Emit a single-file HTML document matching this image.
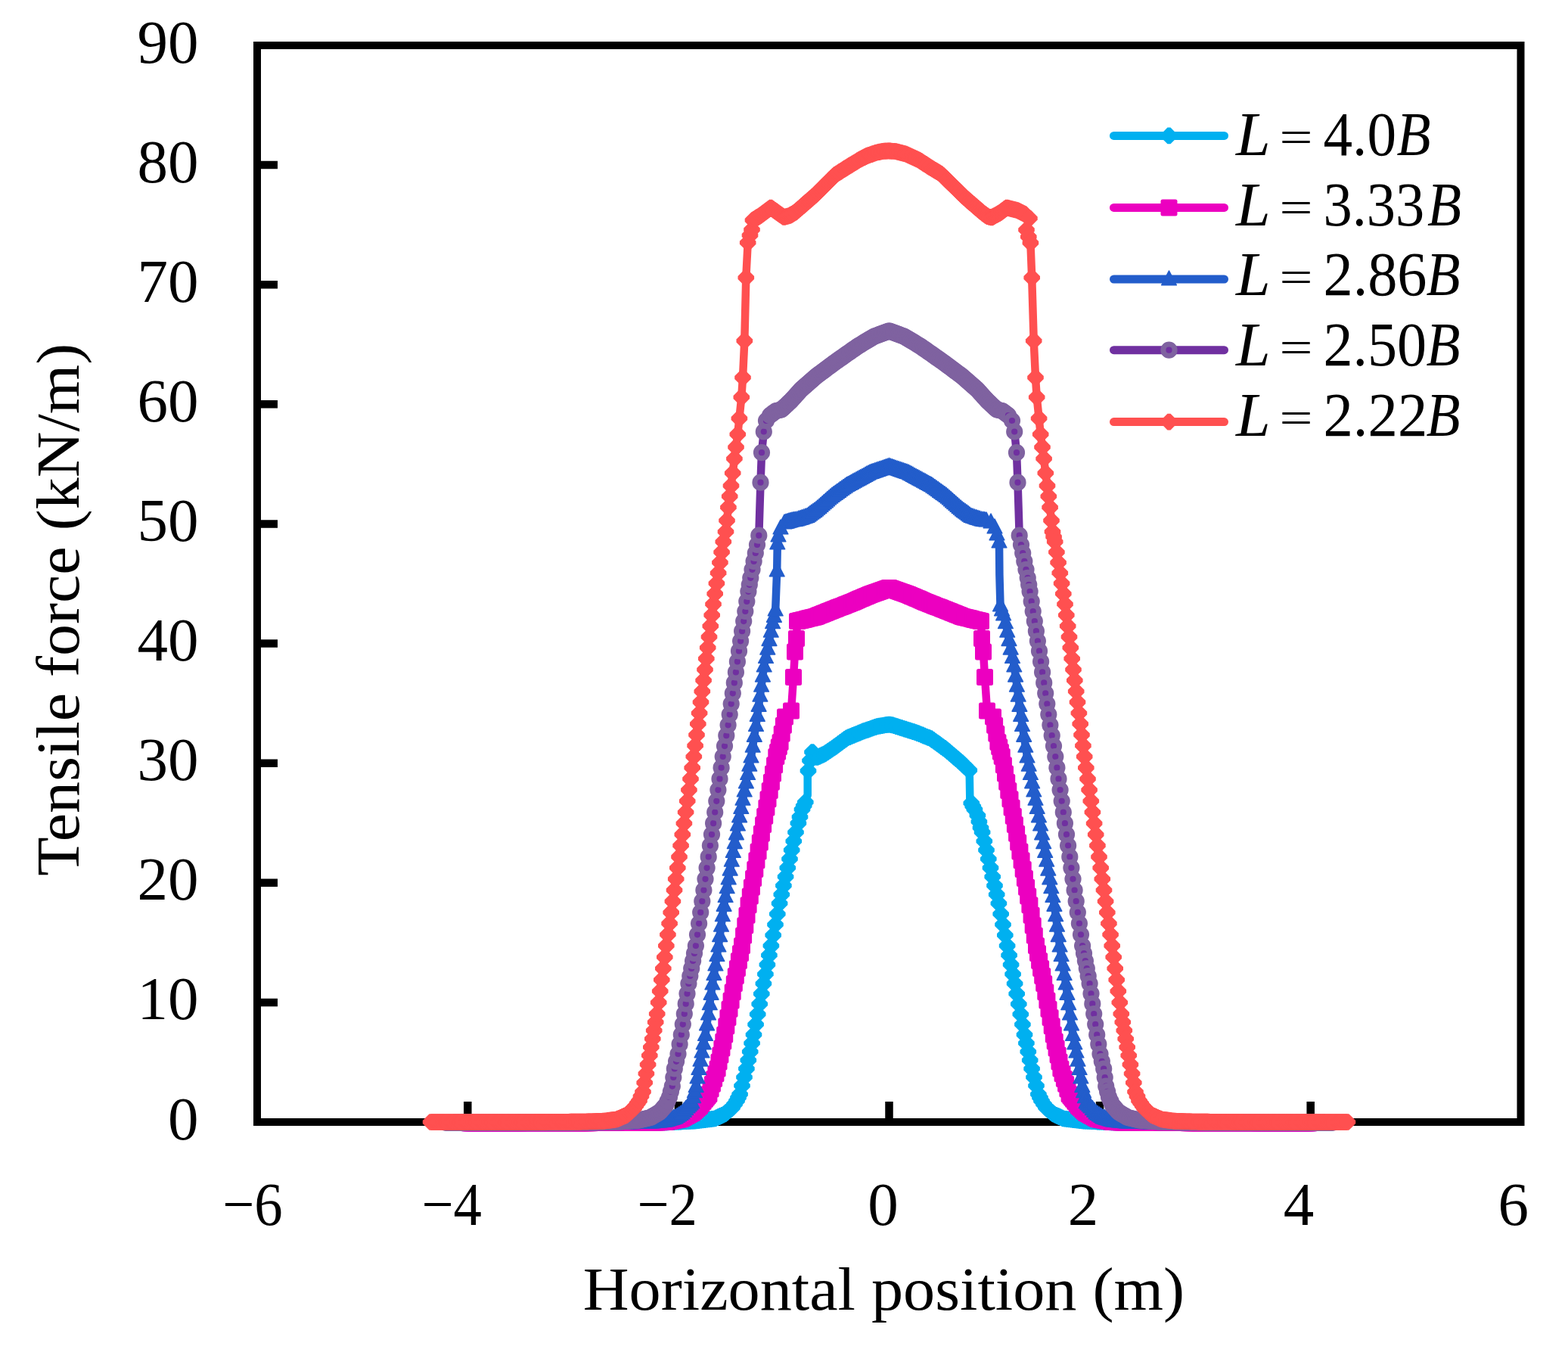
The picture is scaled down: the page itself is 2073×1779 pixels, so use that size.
<!DOCTYPE html><html><head><meta charset="utf-8"><title>Tensile force vs horizontal position</title><style>html,body{margin:0;padding:0;background:#fff;overflow:hidden}svg{display:block}</style></head><body>
<svg width="2073" height="1779" viewBox="0 0 2073 1779">
<defs>
<marker id="m_cyan" markerUnits="userSpaceOnUse" markerWidth="40" markerHeight="40" refX="0" refY="0" viewBox="-20 -20 40 40" overflow="visible"><polygon points="-10.8,-2 -2,-10.8 2,-10.8 10.8,-2 10.8,2 2,10.8 -2,10.8 -10.8,2" fill="#00B0F0"/></marker>
<marker id="m_magenta" markerUnits="userSpaceOnUse" markerWidth="40" markerHeight="40" refX="0" refY="0" viewBox="-20 -20 40 40" overflow="visible"><rect x="-11" y="-11" width="22" height="22" rx="2.5" fill="#EC00C0"/></marker>
<marker id="m_blue" markerUnits="userSpaceOnUse" markerWidth="40" markerHeight="40" refX="0" refY="0" viewBox="-20 -20 40 40" overflow="visible"><polygon points="0,-11 9.8,7.8 -9.8,7.8" fill="#235DCB" stroke="#235DCB" stroke-width="1.6" stroke-linejoin="round"/></marker>
<marker id="m_purple" markerUnits="userSpaceOnUse" markerWidth="40" markerHeight="40" refX="0" refY="0" viewBox="-20 -20 40 40" overflow="visible"><circle r="7.6" fill="#7030A0" stroke="#7F62A0" stroke-width="7"/></marker>
<marker id="m_red" markerUnits="userSpaceOnUse" markerWidth="40" markerHeight="40" refX="0" refY="0" viewBox="-20 -20 40 40" overflow="visible"><polygon points="-10.8,-2 -2,-10.8 2,-10.8 10.8,-2 10.8,2 2,10.8 -2,10.8 -10.8,2" fill="#FF5050"/></marker>
</defs>
<rect width="2073" height="1779" fill="#fff"/>
<rect x="340" y="60" width="1670.5" height="1423" fill="none" stroke="#000" stroke-width="10"/>
<path d="M345,1324.9H367M345,1166.8H367M345,1008.7H367M345,850.6H367M345,692.5H367M345,534.3H367M345,376.2H367M345,218.1H367M618.3,1478V1456M896.9,1478V1456M1175.5,1478V1456M1454.1,1478V1456M1732.7,1478V1456" stroke="#000" stroke-width="10.5" fill="none"/>
<polyline points="640.0,1484.5 642.7,1484.5 645.4,1484.5 648.1,1484.5 650.8,1484.5 653.5,1484.4 656.2,1484.4 658.9,1484.4 661.6,1484.4 664.3,1484.4 667.0,1484.4 669.7,1484.4 672.4,1484.4 675.1,1484.4 677.8,1484.3 680.4,1484.3 683.1,1484.3 685.8,1484.3 688.5,1484.3 691.2,1484.3 693.9,1484.3 696.6,1484.3 699.3,1484.3 702.0,1484.2 704.7,1484.2 707.4,1484.2 710.1,1484.2 712.8,1484.2 715.5,1484.2 718.2,1484.2 720.9,1484.2 723.6,1484.2 726.3,1484.1 729.0,1484.1 731.7,1484.1 734.4,1484.1 737.1,1484.1 739.8,1484.1 742.5,1484.1 745.2,1484.1 747.9,1484.1 750.6,1484.0 753.3,1484.0 756.0,1484.0 758.7,1484.0 761.3,1484.0 764.0,1484.0 766.7,1484.0 769.4,1484.0 772.1,1483.9 774.8,1483.9 777.5,1483.9 780.2,1483.9 782.9,1483.9 785.6,1483.9 788.3,1483.9 791.0,1483.9 793.7,1483.9 796.4,1483.8 799.1,1483.8 801.8,1483.8 804.5,1483.8 807.2,1483.8 809.9,1483.8 812.6,1483.8 815.3,1483.8 818.0,1483.8 820.7,1483.7 823.4,1483.7 826.1,1483.7 828.8,1483.7 831.5,1483.7 834.2,1483.7 836.9,1483.7 839.6,1483.7 842.2,1483.7 844.9,1483.6 847.6,1483.6 850.3,1483.6 853.0,1483.6 855.7,1483.6 858.4,1483.6 861.1,1483.6 863.8,1483.6 866.5,1483.6 869.2,1483.5 871.9,1483.5 874.6,1483.5 877.3,1483.5 880.0,1483.5 882.7,1483.4 885.3,1483.2 888.0,1483.1 890.7,1483.0 893.3,1482.8 896.0,1482.7 898.7,1482.6 901.3,1482.4 904.0,1482.3 906.7,1482.2 909.3,1482.0 912.0,1481.9 914.7,1481.8 917.3,1481.6 920.0,1481.5 922.8,1481.2 925.6,1480.8 928.3,1480.5 931.1,1480.2 933.9,1479.8 936.7,1479.5 939.4,1479.2 942.2,1478.8 945.0,1478.5 947.6,1477.3 950.2,1476.1 952.8,1474.9 955.4,1473.7 958.0,1472.5 960.5,1470.4 963.0,1468.2 965.5,1466.1 968.0,1464.0 971.0,1459.5 974.0,1455.0 976.0,1450.7 978.1,1446.3 981.0,1435.0 984.0,1423.8 986.9,1412.5 989.3,1401.2 991.7,1390.0 994.1,1378.8 996.5,1367.5 999.1,1354.0 1001.7,1340.5 1004.2,1327.0 1006.8,1313.5 1009.4,1300.0 1011.9,1287.5 1014.4,1275.0 1016.9,1262.5 1019.4,1250.0 1022.2,1236.0 1025.0,1222.0 1027.8,1208.0 1030.6,1194.0 1033.3,1182.2 1035.9,1170.5 1038.6,1158.8 1041.3,1147.0 1044.0,1135.2 1046.7,1123.5 1049.3,1111.8 1052.0,1100.0 1055.4,1088.0 1057.5,1079.8 1060.5,1069.7 1062.7,1065.0 1064.8,1060.2 1067.7,1051.0 1067.7,1025.0 1068.5,1018.8 1071.0,1005.2 1074.0,994.0 1080.0,1001.0 1082.5,999.9 1085.0,998.8 1087.5,997.6 1090.0,996.5 1093.0,994.5 1096.0,992.5 1098.9,990.5 1101.9,988.5 1104.5,986.6 1107.1,984.7 1109.7,982.8 1112.2,980.9 1114.8,979.0 1117.4,977.1 1120.0,975.2 1122.7,974.1 1125.4,973.0 1128.1,971.9 1130.8,970.8 1133.4,969.7 1136.1,968.6 1138.8,967.5 1141.5,966.4 1144.1,965.5 1146.8,964.6 1149.4,963.7 1152.1,962.7 1154.7,961.8 1157.4,960.9 1160.0,960.0 1162.6,959.6 1165.2,959.2 1167.8,958.8 1170.3,958.3 1172.9,957.9 1175.5,957.5 1177.8,958.0 1180.0,958.4 1182.8,959.3 1185.5,960.1 1188.3,961.0 1191.1,961.9 1193.8,962.8 1196.6,963.6 1199.3,964.5 1202.1,965.4 1204.9,966.3 1207.6,967.1 1210.4,968.0 1213.3,969.1 1216.2,970.3 1219.1,971.4 1221.9,972.6 1224.8,973.7 1227.7,974.9 1230.6,976.0 1233.1,977.9 1235.7,979.7 1238.2,981.5 1240.8,983.4 1243.3,985.2 1245.8,987.1 1248.4,988.9 1250.9,990.8 1253.8,993.3 1256.7,995.7 1259.6,998.2 1262.4,1000.6 1265.3,1003.1 1268.2,1005.5 1271.1,1008.0 1273.5,1010.5 1276.0,1013.0 1281.3,1018.1 1281.8,1025.2 1282.3,1055.6 1284.3,1061.6 1286.3,1065.7 1288.4,1069.7 1292.4,1077.8 1294.4,1086.0 1296.5,1094.0 1298.6,1100.0 1301.3,1111.8 1304.0,1123.5 1306.8,1135.2 1309.5,1147.0 1312.2,1158.8 1315.0,1170.5 1317.7,1182.2 1320.4,1194.0 1323.2,1208.0 1326.0,1222.0 1328.8,1236.0 1331.6,1250.0 1334.1,1262.5 1336.6,1275.0 1339.1,1287.5 1341.6,1300.0 1344.2,1313.5 1346.8,1327.0 1349.3,1340.5 1351.9,1354.0 1354.5,1367.5 1356.9,1378.8 1359.3,1390.0 1361.7,1401.2 1364.1,1412.5 1367.0,1423.8 1370.0,1435.0 1372.9,1446.3 1375.0,1450.7 1377.0,1455.0 1380.0,1459.5 1383.0,1464.0 1385.5,1466.1 1388.0,1468.2 1390.5,1470.4 1393.0,1472.5 1395.6,1473.7 1398.2,1474.9 1400.8,1476.1 1403.4,1477.3 1406.0,1478.5 1408.8,1478.8 1411.6,1479.2 1414.3,1479.5 1417.1,1479.8 1419.9,1480.2 1422.7,1480.5 1425.4,1480.8 1428.2,1481.2 1431.0,1481.5 1433.7,1481.6 1436.3,1481.8 1439.0,1481.9 1441.7,1482.0 1444.3,1482.2 1447.0,1482.3 1449.7,1482.4 1452.3,1482.6 1455.0,1482.7 1457.7,1482.8 1460.3,1483.0 1463.0,1483.1 1465.7,1483.2 1468.3,1483.4 1471.0,1483.5 1473.7,1483.5 1476.4,1483.5 1479.1,1483.5 1481.8,1483.5 1484.5,1483.6 1487.2,1483.6 1489.9,1483.6 1492.6,1483.6 1495.3,1483.6 1498.0,1483.6 1500.7,1483.6 1503.4,1483.6 1506.1,1483.6 1508.8,1483.7 1511.4,1483.7 1514.1,1483.7 1516.8,1483.7 1519.5,1483.7 1522.2,1483.7 1524.9,1483.7 1527.6,1483.7 1530.3,1483.7 1533.0,1483.8 1535.7,1483.8 1538.4,1483.8 1541.1,1483.8 1543.8,1483.8 1546.5,1483.8 1549.2,1483.8 1551.9,1483.8 1554.6,1483.8 1557.3,1483.9 1560.0,1483.9 1562.7,1483.9 1565.4,1483.9 1568.1,1483.9 1570.8,1483.9 1573.5,1483.9 1576.2,1483.9 1578.9,1483.9 1581.6,1484.0 1584.3,1484.0 1587.0,1484.0 1589.7,1484.0 1592.3,1484.0 1595.0,1484.0 1597.7,1484.0 1600.4,1484.0 1603.1,1484.1 1605.8,1484.1 1608.5,1484.1 1611.2,1484.1 1613.9,1484.1 1616.6,1484.1 1619.3,1484.1 1622.0,1484.1 1624.7,1484.1 1627.4,1484.2 1630.1,1484.2 1632.8,1484.2 1635.5,1484.2 1638.2,1484.2 1640.9,1484.2 1643.6,1484.2 1646.3,1484.2 1649.0,1484.2 1651.7,1484.3 1654.4,1484.3 1657.1,1484.3 1659.8,1484.3 1662.5,1484.3 1665.2,1484.3 1667.9,1484.3 1670.6,1484.3 1673.2,1484.3 1675.9,1484.4 1678.6,1484.4 1681.3,1484.4 1684.0,1484.4 1686.7,1484.4 1689.4,1484.4 1692.1,1484.4 1694.8,1484.4 1697.5,1484.4 1700.2,1484.5 1702.9,1484.5 1705.6,1484.5 1708.3,1484.5 1711.0,1484.5" fill="none" stroke="#00B0F0" stroke-width="10.5" stroke-linejoin="round" stroke-linecap="round"/>
<polyline points="640.0,1484.5 642.7,1484.5 645.4,1484.5 648.1,1484.5 650.8,1484.5 653.5,1484.4 656.2,1484.4 658.9,1484.4 661.6,1484.4 664.3,1484.4 667.0,1484.4 669.7,1484.4 672.4,1484.4 675.1,1484.4 677.8,1484.3 680.4,1484.3 683.1,1484.3 685.8,1484.3 688.5,1484.3 691.2,1484.3 693.9,1484.3 696.6,1484.3 699.3,1484.3 702.0,1484.2 704.7,1484.2 707.4,1484.2 710.1,1484.2 712.8,1484.2 715.5,1484.2 718.2,1484.2 720.9,1484.2 723.6,1484.2 726.3,1484.1 729.0,1484.1 731.7,1484.1 734.4,1484.1 737.1,1484.1 739.8,1484.1 742.5,1484.1 745.2,1484.1 747.9,1484.1 750.6,1484.0 753.3,1484.0 756.0,1484.0 758.7,1484.0 761.3,1484.0 764.0,1484.0 766.7,1484.0 769.4,1484.0 772.1,1483.9 774.8,1483.9 777.5,1483.9 780.2,1483.9 782.9,1483.9 785.6,1483.9 788.3,1483.9 791.0,1483.9 793.7,1483.9 796.4,1483.8 799.1,1483.8 801.8,1483.8 804.5,1483.8 807.2,1483.8 809.9,1483.8 812.6,1483.8 815.3,1483.8 818.0,1483.8 820.7,1483.7 823.4,1483.7 826.1,1483.7 828.8,1483.7 831.5,1483.7 834.2,1483.7 836.9,1483.7 839.6,1483.7 842.2,1483.7 844.9,1483.6 847.6,1483.6 850.3,1483.6 853.0,1483.6 855.7,1483.6 858.4,1483.6 861.1,1483.6 863.8,1483.6 866.5,1483.6 869.2,1483.5 871.9,1483.5 874.6,1483.5 877.3,1483.5 880.0,1483.5 882.7,1483.4 885.3,1483.2 888.0,1483.1 890.7,1483.0 893.3,1482.8 896.0,1482.7 898.7,1482.6 901.3,1482.4 904.0,1482.3 906.7,1482.2 909.3,1482.0 912.0,1481.9 914.7,1481.8 917.3,1481.6 920.0,1481.5 922.8,1481.2 925.6,1480.8 928.3,1480.5 931.1,1480.2 933.9,1479.8 936.7,1479.5 939.4,1479.2 942.2,1478.8 945.0,1478.5 947.6,1477.3 950.2,1476.1 952.8,1474.9 955.4,1473.7 958.0,1472.5 960.5,1470.4 963.0,1468.2 965.5,1466.1 968.0,1464.0 971.0,1459.5 974.0,1455.0 976.0,1450.7 978.1,1446.3 981.0,1435.0 984.0,1423.8 986.9,1412.5 989.3,1401.2 991.7,1390.0 994.1,1378.8 996.5,1367.5 999.1,1354.0 1001.7,1340.5 1004.2,1327.0 1006.8,1313.5 1009.4,1300.0 1011.9,1287.5 1014.4,1275.0 1016.9,1262.5 1019.4,1250.0 1022.2,1236.0 1025.0,1222.0 1027.8,1208.0 1030.6,1194.0 1033.3,1182.2 1035.9,1170.5 1038.6,1158.8 1041.3,1147.0 1044.0,1135.2 1046.7,1123.5 1049.3,1111.8 1052.0,1100.0 1055.4,1088.0 1057.5,1079.8 1060.5,1069.7 1062.7,1065.0 1064.8,1060.2 1068.5,1018.8 1071.0,1005.2 1074.0,994.0 1080.0,1001.0 1082.5,999.9 1085.0,998.8 1087.5,997.6 1090.0,996.5 1093.0,994.5 1096.0,992.5 1098.9,990.5 1101.9,988.5 1104.5,986.6 1107.1,984.7 1109.7,982.8 1112.2,980.9 1114.8,979.0 1117.4,977.1 1120.0,975.2 1122.7,974.1 1125.4,973.0 1128.1,971.9 1130.8,970.8 1133.4,969.7 1136.1,968.6 1138.8,967.5 1141.5,966.4 1144.1,965.5 1146.8,964.6 1149.4,963.7 1152.1,962.7 1154.7,961.8 1157.4,960.9 1160.0,960.0 1162.6,959.6 1165.2,959.2 1167.8,958.8 1170.3,958.3 1172.9,957.9 1175.5,957.5 1177.8,958.0 1180.0,958.4 1182.8,959.3 1185.5,960.1 1188.3,961.0 1191.1,961.9 1193.8,962.8 1196.6,963.6 1199.3,964.5 1202.1,965.4 1204.9,966.3 1207.6,967.1 1210.4,968.0 1213.3,969.1 1216.2,970.3 1219.1,971.4 1221.9,972.6 1224.8,973.7 1227.7,974.9 1230.6,976.0 1233.1,977.9 1235.7,979.7 1238.2,981.5 1240.8,983.4 1243.3,985.2 1245.8,987.1 1248.4,988.9 1250.9,990.8 1253.8,993.3 1256.7,995.7 1259.6,998.2 1262.4,1000.6 1265.3,1003.1 1268.2,1005.5 1271.1,1008.0 1273.5,1010.5 1276.0,1013.0 1281.3,1018.1 1284.3,1061.6 1286.3,1065.7 1288.4,1069.7 1292.4,1077.8 1294.4,1086.0 1296.5,1094.0 1298.6,1100.0 1301.3,1111.8 1304.0,1123.5 1306.8,1135.2 1309.5,1147.0 1312.2,1158.8 1315.0,1170.5 1317.7,1182.2 1320.4,1194.0 1323.2,1208.0 1326.0,1222.0 1328.8,1236.0 1331.6,1250.0 1334.1,1262.5 1336.6,1275.0 1339.1,1287.5 1341.6,1300.0 1344.2,1313.5 1346.8,1327.0 1349.3,1340.5 1351.9,1354.0 1354.5,1367.5 1356.9,1378.8 1359.3,1390.0 1361.7,1401.2 1364.1,1412.5 1367.0,1423.8 1370.0,1435.0 1372.9,1446.3 1375.0,1450.7 1377.0,1455.0 1380.0,1459.5 1383.0,1464.0 1385.5,1466.1 1388.0,1468.2 1390.5,1470.4 1393.0,1472.5 1395.6,1473.7 1398.2,1474.9 1400.8,1476.1 1403.4,1477.3 1406.0,1478.5 1408.8,1478.8 1411.6,1479.2 1414.3,1479.5 1417.1,1479.8 1419.9,1480.2 1422.7,1480.5 1425.4,1480.8 1428.2,1481.2 1431.0,1481.5 1433.7,1481.6 1436.3,1481.8 1439.0,1481.9 1441.7,1482.0 1444.3,1482.2 1447.0,1482.3 1449.7,1482.4 1452.3,1482.6 1455.0,1482.7 1457.7,1482.8 1460.3,1483.0 1463.0,1483.1 1465.7,1483.2 1468.3,1483.4 1471.0,1483.5 1473.7,1483.5 1476.4,1483.5 1479.1,1483.5 1481.8,1483.5 1484.5,1483.6 1487.2,1483.6 1489.9,1483.6 1492.6,1483.6 1495.3,1483.6 1498.0,1483.6 1500.7,1483.6 1503.4,1483.6 1506.1,1483.6 1508.8,1483.7 1511.4,1483.7 1514.1,1483.7 1516.8,1483.7 1519.5,1483.7 1522.2,1483.7 1524.9,1483.7 1527.6,1483.7 1530.3,1483.7 1533.0,1483.8 1535.7,1483.8 1538.4,1483.8 1541.1,1483.8 1543.8,1483.8 1546.5,1483.8 1549.2,1483.8 1551.9,1483.8 1554.6,1483.8 1557.3,1483.9 1560.0,1483.9 1562.7,1483.9 1565.4,1483.9 1568.1,1483.9 1570.8,1483.9 1573.5,1483.9 1576.2,1483.9 1578.9,1483.9 1581.6,1484.0 1584.3,1484.0 1587.0,1484.0 1589.7,1484.0 1592.3,1484.0 1595.0,1484.0 1597.7,1484.0 1600.4,1484.0 1603.1,1484.1 1605.8,1484.1 1608.5,1484.1 1611.2,1484.1 1613.9,1484.1 1616.6,1484.1 1619.3,1484.1 1622.0,1484.1 1624.7,1484.1 1627.4,1484.2 1630.1,1484.2 1632.8,1484.2 1635.5,1484.2 1638.2,1484.2 1640.9,1484.2 1643.6,1484.2 1646.3,1484.2 1649.0,1484.2 1651.7,1484.3 1654.4,1484.3 1657.1,1484.3 1659.8,1484.3 1662.5,1484.3 1665.2,1484.3 1667.9,1484.3 1670.6,1484.3 1673.2,1484.3 1675.9,1484.4 1678.6,1484.4 1681.3,1484.4 1684.0,1484.4 1686.7,1484.4 1689.4,1484.4 1692.1,1484.4 1694.8,1484.4 1697.5,1484.4 1700.2,1484.5 1702.9,1484.5 1705.6,1484.5 1708.3,1484.5 1711.0,1484.5" fill="none" stroke="none" marker-start="url(#m_cyan)" marker-mid="url(#m_cyan)" marker-end="url(#m_cyan)"/>
<polyline points="620.0,1484.5 622.1,1484.5 624.2,1484.5 626.3,1484.5 628.4,1484.5 630.5,1484.5 632.5,1484.5 634.6,1484.5 636.7,1484.5 638.8,1484.5 640.9,1484.5 643.0,1484.5 645.1,1484.4 647.2,1484.4 649.3,1484.4 651.4,1484.4 653.5,1484.4 655.5,1484.4 657.6,1484.4 659.7,1484.4 661.8,1484.4 663.9,1484.4 666.0,1484.4 668.1,1484.4 670.2,1484.4 672.3,1484.4 674.4,1484.4 676.5,1484.4 678.5,1484.4 680.6,1484.4 682.7,1484.4 684.8,1484.4 686.9,1484.4 689.0,1484.3 691.1,1484.3 693.2,1484.3 695.3,1484.3 697.4,1484.3 699.5,1484.3 701.5,1484.3 703.6,1484.3 705.7,1484.3 707.8,1484.3 709.9,1484.3 712.0,1484.3 714.1,1484.3 716.2,1484.3 718.3,1484.3 720.4,1484.3 722.5,1484.3 724.5,1484.3 726.6,1484.3 728.7,1484.3 730.8,1484.3 732.9,1484.3 735.0,1484.2 737.1,1484.2 739.2,1484.2 741.3,1484.2 743.4,1484.2 745.5,1484.2 747.5,1484.2 749.6,1484.2 751.7,1484.2 753.8,1484.2 755.9,1484.2 758.0,1484.2 760.1,1484.2 762.2,1484.2 764.3,1484.2 766.4,1484.2 768.5,1484.2 770.5,1484.2 772.6,1484.2 774.7,1484.2 776.8,1484.2 778.9,1484.2 781.0,1484.2 783.1,1484.1 785.2,1484.1 787.3,1484.1 789.4,1484.1 791.5,1484.1 793.5,1484.1 795.6,1484.1 797.7,1484.1 799.8,1484.1 801.9,1484.1 804.0,1484.1 806.1,1484.1 808.2,1484.1 810.3,1484.1 812.4,1484.1 814.5,1484.1 816.5,1484.1 818.6,1484.1 820.7,1484.1 822.8,1484.1 824.9,1484.1 827.0,1484.0 829.1,1484.0 831.2,1484.0 833.3,1484.0 835.4,1484.0 837.5,1484.0 839.5,1484.0 841.6,1484.0 843.7,1484.0 845.8,1484.0 847.9,1484.0 850.0,1484.0 852.1,1483.9 854.3,1483.9 856.4,1483.8 858.6,1483.7 860.7,1483.6 862.9,1483.6 865.0,1483.5 867.1,1483.4 869.3,1483.4 871.4,1483.3 873.6,1483.2 875.7,1483.1 877.9,1483.1 880.0,1483.0 882.0,1482.6 884.0,1482.2 886.0,1481.8 888.0,1481.4 890.0,1481.0 892.0,1480.6 894.0,1480.2 896.0,1479.8 898.0,1479.4 900.0,1479.0 902.1,1477.9 904.3,1476.7 906.4,1475.6 908.6,1474.4 910.7,1473.3 912.9,1472.1 915.0,1471.0 917.0,1469.2 919.0,1467.4 921.0,1465.6 923.0,1463.8 925.0,1462.0 927.3,1459.0 929.7,1456.0 932.0,1453.0 933.8,1450.8 935.6,1448.5 937.4,1446.3 939.6,1439.5 941.9,1432.8 944.1,1426.0 946.4,1419.3 948.6,1412.5 950.5,1403.5 952.4,1394.5 954.4,1385.5 956.3,1376.5 958.2,1367.5 960.3,1356.2 962.4,1345.0 964.5,1333.8 966.6,1322.5 968.7,1311.2 970.8,1300.0 972.8,1290.0 974.9,1280.0 976.9,1270.0 979.0,1260.0 981.0,1250.0 983.1,1236.6 985.3,1223.2 987.5,1209.7 989.6,1196.3 991.8,1184.5 993.9,1172.7 996.1,1160.9 998.3,1149.1 1000.4,1137.2 1002.6,1125.4 1004.8,1113.6 1006.9,1101.8 1009.1,1090.0 1011.2,1078.8 1013.4,1067.5 1015.5,1056.2 1017.7,1045.0 1019.9,1033.8 1022.0,1022.5 1024.1,1011.2 1026.3,1000.0 1028.1,993.7 1029.8,987.3 1031.6,981.0 1033.7,969.8 1035.9,958.7 1038.0,947.5 1046.0,939.6 1049.0,895.0 1051.0,861.6 1053.0,844.0 1054.0,821.0 1056.2,820.5 1058.4,819.9 1060.5,819.4 1062.7,818.9 1064.9,818.4 1067.1,817.8 1069.3,817.3 1071.5,816.8 1073.6,816.3 1075.8,815.7 1078.0,815.2 1080.1,814.4 1082.2,813.6 1084.3,812.7 1086.4,811.9 1088.5,811.1 1090.5,810.2 1092.6,809.4 1094.7,808.6 1096.8,807.8 1098.9,807.0 1101.0,806.1 1103.1,805.3 1105.2,804.5 1107.3,803.6 1109.4,802.8 1111.5,802.0 1113.6,801.2 1115.7,800.4 1117.7,799.5 1119.8,798.7 1121.9,797.9 1124.0,797.0 1126.1,796.2 1128.2,795.4 1130.4,794.5 1132.6,793.5 1134.7,792.6 1136.9,791.6 1139.1,790.7 1141.3,789.8 1143.5,788.8 1145.6,787.9 1147.8,786.9 1150.0,786.0 1152.1,785.2 1154.2,784.5 1156.4,783.8 1158.5,783.0 1160.6,782.2 1162.8,781.5 1164.9,780.8 1167.0,780.0 1169.1,779.2 1171.2,778.5 1173.4,777.8 1175.5,777.0 1177.6,777.8 1179.8,778.5 1181.9,779.2 1184.0,780.0 1186.1,780.8 1188.2,781.5 1190.4,782.2 1192.5,783.0 1194.6,783.8 1196.8,784.5 1198.9,785.2 1201.0,786.0 1203.2,786.9 1205.4,787.9 1207.5,788.8 1209.7,789.8 1211.9,790.7 1214.1,791.6 1216.3,792.6 1218.4,793.5 1220.6,794.5 1222.8,795.4 1224.9,796.2 1227.0,797.0 1229.1,797.9 1231.2,798.7 1233.3,799.5 1235.3,800.4 1237.4,801.2 1239.5,802.0 1241.6,802.8 1243.7,803.6 1245.8,804.5 1247.9,805.3 1250.0,806.1 1252.1,807.0 1254.2,807.8 1256.3,808.6 1258.4,809.4 1260.5,810.2 1262.5,811.1 1264.6,811.9 1266.7,812.7 1268.8,813.6 1270.9,814.4 1273.0,815.2 1275.2,815.7 1277.4,816.3 1279.5,816.8 1281.7,817.3 1283.9,817.8 1286.1,818.4 1288.3,818.9 1290.5,819.4 1292.6,819.9 1294.8,820.5 1297.0,821.0 1298.0,844.0 1300.0,861.6 1302.0,895.0 1305.0,939.6 1313.0,947.5 1315.1,958.7 1317.3,969.8 1319.4,981.0 1321.2,987.3 1322.9,993.7 1324.7,1000.0 1326.9,1011.2 1329.0,1022.5 1331.2,1033.8 1333.3,1045.0 1335.5,1056.2 1337.6,1067.5 1339.8,1078.8 1341.9,1090.0 1344.1,1101.8 1346.2,1113.6 1348.4,1125.4 1350.6,1137.2 1352.7,1149.1 1354.9,1160.9 1357.1,1172.7 1359.2,1184.5 1361.4,1196.3 1363.6,1209.7 1365.7,1223.2 1367.8,1236.6 1370.0,1250.0 1372.0,1260.0 1374.1,1270.0 1376.1,1280.0 1378.2,1290.0 1380.2,1300.0 1382.3,1311.2 1384.4,1322.5 1386.5,1333.8 1388.6,1345.0 1390.7,1356.2 1392.8,1367.5 1394.7,1376.5 1396.6,1385.5 1398.6,1394.5 1400.5,1403.5 1402.4,1412.5 1404.6,1419.3 1406.9,1426.0 1409.1,1432.8 1411.4,1439.5 1413.6,1446.3 1415.4,1448.5 1417.2,1450.8 1419.0,1453.0 1421.3,1456.0 1423.7,1459.0 1426.0,1462.0 1428.0,1463.8 1430.0,1465.6 1432.0,1467.4 1434.0,1469.2 1436.0,1471.0 1438.1,1472.1 1440.3,1473.3 1442.4,1474.4 1444.6,1475.6 1446.7,1476.7 1448.9,1477.9 1451.0,1479.0 1453.0,1479.4 1455.0,1479.8 1457.0,1480.2 1459.0,1480.6 1461.0,1481.0 1463.0,1481.4 1465.0,1481.8 1467.0,1482.2 1469.0,1482.6 1471.0,1483.0 1473.1,1483.1 1475.3,1483.1 1477.4,1483.2 1479.6,1483.3 1481.7,1483.4 1483.9,1483.4 1486.0,1483.5 1488.1,1483.6 1490.3,1483.6 1492.4,1483.7 1494.6,1483.8 1496.7,1483.9 1498.9,1483.9 1501.0,1484.0 1503.1,1484.0 1505.2,1484.0 1507.3,1484.0 1509.4,1484.0 1511.5,1484.0 1513.5,1484.0 1515.6,1484.0 1517.7,1484.0 1519.8,1484.0 1521.9,1484.0 1524.0,1484.0 1526.1,1484.1 1528.2,1484.1 1530.3,1484.1 1532.4,1484.1 1534.5,1484.1 1536.5,1484.1 1538.6,1484.1 1540.7,1484.1 1542.8,1484.1 1544.9,1484.1 1547.0,1484.1 1549.1,1484.1 1551.2,1484.1 1553.3,1484.1 1555.4,1484.1 1557.5,1484.1 1559.5,1484.1 1561.6,1484.1 1563.7,1484.1 1565.8,1484.1 1567.9,1484.1 1570.0,1484.2 1572.1,1484.2 1574.2,1484.2 1576.3,1484.2 1578.4,1484.2 1580.5,1484.2 1582.5,1484.2 1584.6,1484.2 1586.7,1484.2 1588.8,1484.2 1590.9,1484.2 1593.0,1484.2 1595.1,1484.2 1597.2,1484.2 1599.3,1484.2 1601.4,1484.2 1603.5,1484.2 1605.5,1484.2 1607.6,1484.2 1609.7,1484.2 1611.8,1484.2 1613.9,1484.2 1616.0,1484.2 1618.1,1484.3 1620.2,1484.3 1622.3,1484.3 1624.4,1484.3 1626.5,1484.3 1628.5,1484.3 1630.6,1484.3 1632.7,1484.3 1634.8,1484.3 1636.9,1484.3 1639.0,1484.3 1641.1,1484.3 1643.2,1484.3 1645.3,1484.3 1647.4,1484.3 1649.5,1484.3 1651.5,1484.3 1653.6,1484.3 1655.7,1484.3 1657.8,1484.3 1659.9,1484.3 1662.0,1484.3 1664.1,1484.4 1666.2,1484.4 1668.3,1484.4 1670.4,1484.4 1672.5,1484.4 1674.5,1484.4 1676.6,1484.4 1678.7,1484.4 1680.8,1484.4 1682.9,1484.4 1685.0,1484.4 1687.1,1484.4 1689.2,1484.4 1691.3,1484.4 1693.4,1484.4 1695.5,1484.4 1697.5,1484.4 1699.6,1484.4 1701.7,1484.4 1703.8,1484.4 1705.9,1484.4 1708.0,1484.5 1710.1,1484.5 1712.2,1484.5 1714.3,1484.5 1716.4,1484.5 1718.5,1484.5 1720.5,1484.5 1722.6,1484.5 1724.7,1484.5 1726.8,1484.5 1728.9,1484.5 1731.0,1484.5" fill="none" stroke="#EC00C0" stroke-width="10.5" stroke-linejoin="round" stroke-linecap="round"/>
<polyline points="620.0,1484.5 622.1,1484.5 624.2,1484.5 626.3,1484.5 628.4,1484.5 630.5,1484.5 632.5,1484.5 634.6,1484.5 636.7,1484.5 638.8,1484.5 640.9,1484.5 643.0,1484.5 645.1,1484.4 647.2,1484.4 649.3,1484.4 651.4,1484.4 653.5,1484.4 655.5,1484.4 657.6,1484.4 659.7,1484.4 661.8,1484.4 663.9,1484.4 666.0,1484.4 668.1,1484.4 670.2,1484.4 672.3,1484.4 674.4,1484.4 676.5,1484.4 678.5,1484.4 680.6,1484.4 682.7,1484.4 684.8,1484.4 686.9,1484.4 689.0,1484.3 691.1,1484.3 693.2,1484.3 695.3,1484.3 697.4,1484.3 699.5,1484.3 701.5,1484.3 703.6,1484.3 705.7,1484.3 707.8,1484.3 709.9,1484.3 712.0,1484.3 714.1,1484.3 716.2,1484.3 718.3,1484.3 720.4,1484.3 722.5,1484.3 724.5,1484.3 726.6,1484.3 728.7,1484.3 730.8,1484.3 732.9,1484.3 735.0,1484.2 737.1,1484.2 739.2,1484.2 741.3,1484.2 743.4,1484.2 745.5,1484.2 747.5,1484.2 749.6,1484.2 751.7,1484.2 753.8,1484.2 755.9,1484.2 758.0,1484.2 760.1,1484.2 762.2,1484.2 764.3,1484.2 766.4,1484.2 768.5,1484.2 770.5,1484.2 772.6,1484.2 774.7,1484.2 776.8,1484.2 778.9,1484.2 781.0,1484.2 783.1,1484.1 785.2,1484.1 787.3,1484.1 789.4,1484.1 791.5,1484.1 793.5,1484.1 795.6,1484.1 797.7,1484.1 799.8,1484.1 801.9,1484.1 804.0,1484.1 806.1,1484.1 808.2,1484.1 810.3,1484.1 812.4,1484.1 814.5,1484.1 816.5,1484.1 818.6,1484.1 820.7,1484.1 822.8,1484.1 824.9,1484.1 827.0,1484.0 829.1,1484.0 831.2,1484.0 833.3,1484.0 835.4,1484.0 837.5,1484.0 839.5,1484.0 841.6,1484.0 843.7,1484.0 845.8,1484.0 847.9,1484.0 850.0,1484.0 852.1,1483.9 854.3,1483.9 856.4,1483.8 858.6,1483.7 860.7,1483.6 862.9,1483.6 865.0,1483.5 867.1,1483.4 869.3,1483.4 871.4,1483.3 873.6,1483.2 875.7,1483.1 877.9,1483.1 880.0,1483.0 882.0,1482.6 884.0,1482.2 886.0,1481.8 888.0,1481.4 890.0,1481.0 892.0,1480.6 894.0,1480.2 896.0,1479.8 898.0,1479.4 900.0,1479.0 902.1,1477.9 904.3,1476.7 906.4,1475.6 908.6,1474.4 910.7,1473.3 912.9,1472.1 915.0,1471.0 917.0,1469.2 919.0,1467.4 921.0,1465.6 923.0,1463.8 925.0,1462.0 927.3,1459.0 929.7,1456.0 932.0,1453.0 933.8,1450.8 935.6,1448.5 937.4,1446.3 939.6,1439.5 941.9,1432.8 944.1,1426.0 946.4,1419.3 948.6,1412.5 950.5,1403.5 952.4,1394.5 954.4,1385.5 956.3,1376.5 958.2,1367.5 960.3,1356.2 962.4,1345.0 964.5,1333.8 966.6,1322.5 968.7,1311.2 970.8,1300.0 972.8,1290.0 974.9,1280.0 976.9,1270.0 979.0,1260.0 981.0,1250.0 983.1,1236.6 985.3,1223.2 987.5,1209.7 989.6,1196.3 991.8,1184.5 993.9,1172.7 996.1,1160.9 998.3,1149.1 1000.4,1137.2 1002.6,1125.4 1004.8,1113.6 1006.9,1101.8 1009.1,1090.0 1011.2,1078.8 1013.4,1067.5 1015.5,1056.2 1017.7,1045.0 1019.9,1033.8 1022.0,1022.5 1024.1,1011.2 1026.3,1000.0 1028.1,993.7 1029.8,987.3 1031.6,981.0 1033.7,969.8 1035.9,958.7 1038.0,947.5 1046.0,939.6 1049.0,895.0 1051.0,861.6 1053.0,844.0 1054.0,821.0 1056.2,820.5 1058.4,819.9 1060.5,819.4 1062.7,818.9 1064.9,818.4 1067.1,817.8 1069.3,817.3 1071.5,816.8 1073.6,816.3 1075.8,815.7 1078.0,815.2 1080.1,814.4 1082.2,813.6 1084.3,812.7 1086.4,811.9 1088.5,811.1 1090.5,810.2 1092.6,809.4 1094.7,808.6 1096.8,807.8 1098.9,807.0 1101.0,806.1 1103.1,805.3 1105.2,804.5 1107.3,803.6 1109.4,802.8 1111.5,802.0 1113.6,801.2 1115.7,800.4 1117.7,799.5 1119.8,798.7 1121.9,797.9 1124.0,797.0 1126.1,796.2 1128.2,795.4 1130.4,794.5 1132.6,793.5 1134.7,792.6 1136.9,791.6 1139.1,790.7 1141.3,789.8 1143.5,788.8 1145.6,787.9 1147.8,786.9 1150.0,786.0 1152.1,785.2 1154.2,784.5 1156.4,783.8 1158.5,783.0 1160.6,782.2 1162.8,781.5 1164.9,780.8 1167.0,780.0 1169.1,779.2 1171.2,778.5 1173.4,777.8 1175.5,777.0 1177.6,777.8 1179.8,778.5 1181.9,779.2 1184.0,780.0 1186.1,780.8 1188.2,781.5 1190.4,782.2 1192.5,783.0 1194.6,783.8 1196.8,784.5 1198.9,785.2 1201.0,786.0 1203.2,786.9 1205.4,787.9 1207.5,788.8 1209.7,789.8 1211.9,790.7 1214.1,791.6 1216.3,792.6 1218.4,793.5 1220.6,794.5 1222.8,795.4 1224.9,796.2 1227.0,797.0 1229.1,797.9 1231.2,798.7 1233.3,799.5 1235.3,800.4 1237.4,801.2 1239.5,802.0 1241.6,802.8 1243.7,803.6 1245.8,804.5 1247.9,805.3 1250.0,806.1 1252.1,807.0 1254.2,807.8 1256.3,808.6 1258.4,809.4 1260.5,810.2 1262.5,811.1 1264.6,811.9 1266.7,812.7 1268.8,813.6 1270.9,814.4 1273.0,815.2 1275.2,815.7 1277.4,816.3 1279.5,816.8 1281.7,817.3 1283.9,817.8 1286.1,818.4 1288.3,818.9 1290.5,819.4 1292.6,819.9 1294.8,820.5 1297.0,821.0 1298.0,844.0 1300.0,861.6 1302.0,895.0 1305.0,939.6 1313.0,947.5 1315.1,958.7 1317.3,969.8 1319.4,981.0 1321.2,987.3 1322.9,993.7 1324.7,1000.0 1326.9,1011.2 1329.0,1022.5 1331.2,1033.8 1333.3,1045.0 1335.5,1056.2 1337.6,1067.5 1339.8,1078.8 1341.9,1090.0 1344.1,1101.8 1346.2,1113.6 1348.4,1125.4 1350.6,1137.2 1352.7,1149.1 1354.9,1160.9 1357.1,1172.7 1359.2,1184.5 1361.4,1196.3 1363.6,1209.7 1365.7,1223.2 1367.8,1236.6 1370.0,1250.0 1372.0,1260.0 1374.1,1270.0 1376.1,1280.0 1378.2,1290.0 1380.2,1300.0 1382.3,1311.2 1384.4,1322.5 1386.5,1333.8 1388.6,1345.0 1390.7,1356.2 1392.8,1367.5 1394.7,1376.5 1396.6,1385.5 1398.6,1394.5 1400.5,1403.5 1402.4,1412.5 1404.6,1419.3 1406.9,1426.0 1409.1,1432.8 1411.4,1439.5 1413.6,1446.3 1415.4,1448.5 1417.2,1450.8 1419.0,1453.0 1421.3,1456.0 1423.7,1459.0 1426.0,1462.0 1428.0,1463.8 1430.0,1465.6 1432.0,1467.4 1434.0,1469.2 1436.0,1471.0 1438.1,1472.1 1440.3,1473.3 1442.4,1474.4 1444.6,1475.6 1446.7,1476.7 1448.9,1477.9 1451.0,1479.0 1453.0,1479.4 1455.0,1479.8 1457.0,1480.2 1459.0,1480.6 1461.0,1481.0 1463.0,1481.4 1465.0,1481.8 1467.0,1482.2 1469.0,1482.6 1471.0,1483.0 1473.1,1483.1 1475.3,1483.1 1477.4,1483.2 1479.6,1483.3 1481.7,1483.4 1483.9,1483.4 1486.0,1483.5 1488.1,1483.6 1490.3,1483.6 1492.4,1483.7 1494.6,1483.8 1496.7,1483.9 1498.9,1483.9 1501.0,1484.0 1503.1,1484.0 1505.2,1484.0 1507.3,1484.0 1509.4,1484.0 1511.5,1484.0 1513.5,1484.0 1515.6,1484.0 1517.7,1484.0 1519.8,1484.0 1521.9,1484.0 1524.0,1484.0 1526.1,1484.1 1528.2,1484.1 1530.3,1484.1 1532.4,1484.1 1534.5,1484.1 1536.5,1484.1 1538.6,1484.1 1540.7,1484.1 1542.8,1484.1 1544.9,1484.1 1547.0,1484.1 1549.1,1484.1 1551.2,1484.1 1553.3,1484.1 1555.4,1484.1 1557.5,1484.1 1559.5,1484.1 1561.6,1484.1 1563.7,1484.1 1565.8,1484.1 1567.9,1484.1 1570.0,1484.2 1572.1,1484.2 1574.2,1484.2 1576.3,1484.2 1578.4,1484.2 1580.5,1484.2 1582.5,1484.2 1584.6,1484.2 1586.7,1484.2 1588.8,1484.2 1590.9,1484.2 1593.0,1484.2 1595.1,1484.2 1597.2,1484.2 1599.3,1484.2 1601.4,1484.2 1603.5,1484.2 1605.5,1484.2 1607.6,1484.2 1609.7,1484.2 1611.8,1484.2 1613.9,1484.2 1616.0,1484.2 1618.1,1484.3 1620.2,1484.3 1622.3,1484.3 1624.4,1484.3 1626.5,1484.3 1628.5,1484.3 1630.6,1484.3 1632.7,1484.3 1634.8,1484.3 1636.9,1484.3 1639.0,1484.3 1641.1,1484.3 1643.2,1484.3 1645.3,1484.3 1647.4,1484.3 1649.5,1484.3 1651.5,1484.3 1653.6,1484.3 1655.7,1484.3 1657.8,1484.3 1659.9,1484.3 1662.0,1484.3 1664.1,1484.4 1666.2,1484.4 1668.3,1484.4 1670.4,1484.4 1672.5,1484.4 1674.5,1484.4 1676.6,1484.4 1678.7,1484.4 1680.8,1484.4 1682.9,1484.4 1685.0,1484.4 1687.1,1484.4 1689.2,1484.4 1691.3,1484.4 1693.4,1484.4 1695.5,1484.4 1697.5,1484.4 1699.6,1484.4 1701.7,1484.4 1703.8,1484.4 1705.9,1484.4 1708.0,1484.5 1710.1,1484.5 1712.2,1484.5 1714.3,1484.5 1716.4,1484.5 1718.5,1484.5 1720.5,1484.5 1722.6,1484.5 1724.7,1484.5 1726.8,1484.5 1728.9,1484.5 1731.0,1484.5" fill="none" stroke="none" marker-start="url(#m_magenta)" marker-mid="url(#m_magenta)" marker-end="url(#m_magenta)"/>
<polyline points="600.0,1484.0 602.1,1484.0 604.2,1484.0 606.3,1484.0 608.4,1484.0 610.5,1484.0 612.6,1484.0 614.7,1484.0 616.8,1484.0 618.9,1484.0 621.0,1484.0 623.0,1484.0 625.1,1484.0 627.2,1484.0 629.3,1484.0 631.4,1484.0 633.5,1484.0 635.6,1484.0 637.7,1484.0 639.8,1484.0 641.9,1484.0 644.0,1484.0 646.1,1484.0 648.2,1484.0 650.3,1484.0 652.4,1484.0 654.5,1484.0 656.6,1484.0 658.7,1484.0 660.8,1484.0 662.9,1484.0 665.0,1484.0 667.0,1484.0 669.1,1484.0 671.2,1484.0 673.3,1484.0 675.4,1484.0 677.5,1484.0 679.6,1484.0 681.7,1484.0 683.8,1484.0 685.9,1484.0 688.0,1484.0 690.1,1484.0 692.2,1484.0 694.3,1484.0 696.4,1484.0 698.5,1484.0 700.6,1484.0 702.7,1484.0 704.8,1484.0 706.9,1484.0 709.0,1484.0 711.0,1484.0 713.1,1484.0 715.2,1484.0 717.3,1484.0 719.4,1484.0 721.5,1484.0 723.6,1484.0 725.7,1484.0 727.8,1484.0 729.9,1484.0 732.0,1484.0 734.1,1484.0 736.2,1484.0 738.3,1484.0 740.4,1484.0 742.5,1484.0 744.6,1484.0 746.7,1484.0 748.8,1484.0 750.9,1484.0 753.0,1484.0 755.0,1484.0 757.1,1484.0 759.2,1484.0 761.3,1484.0 763.4,1484.0 765.5,1484.0 767.6,1484.0 769.7,1484.0 771.8,1484.0 773.9,1484.0 776.0,1484.0 778.1,1484.0 780.2,1484.0 782.3,1484.0 784.4,1484.0 786.5,1484.0 788.6,1484.0 790.7,1484.0 792.8,1484.0 794.9,1484.0 797.0,1484.0 799.0,1484.0 801.1,1484.0 803.2,1484.0 805.3,1484.0 807.4,1484.0 809.5,1484.0 811.6,1484.0 813.7,1484.0 815.8,1484.0 817.9,1484.0 820.0,1484.0 822.1,1483.9 824.2,1483.9 826.3,1483.8 828.4,1483.8 830.5,1483.7 832.6,1483.7 834.7,1483.6 836.8,1483.6 838.9,1483.5 841.1,1483.5 843.2,1483.4 845.3,1483.4 847.4,1483.3 849.5,1483.3 851.6,1483.2 853.7,1483.2 855.8,1483.1 857.9,1483.1 860.0,1483.0 862.0,1482.8 864.0,1482.6 866.0,1482.4 868.0,1482.2 870.0,1482.0 872.0,1481.8 874.0,1481.6 876.0,1481.4 878.0,1481.2 880.0,1481.0 882.2,1480.3 884.3,1479.7 886.5,1479.0 888.7,1478.3 890.8,1477.7 893.0,1477.0 895.2,1475.5 897.5,1474.0 899.8,1472.5 902.0,1471.0 904.3,1468.3 906.7,1465.7 909.0,1463.0 910.9,1460.9 912.9,1458.9 914.8,1456.8 916.6,1449.7 918.4,1442.7 920.2,1435.6 922.0,1424.0 923.9,1412.5 926.0,1401.2 928.0,1390.0 930.2,1378.8 932.5,1367.5 934.5,1353.8 936.5,1340.0 938.3,1326.7 940.1,1313.3 941.9,1300.0 943.9,1287.5 945.9,1275.0 947.9,1262.5 949.9,1250.0 951.7,1236.6 953.5,1223.2 955.3,1209.7 957.1,1196.3 959.1,1184.5 961.2,1172.7 963.2,1160.9 965.2,1149.1 967.3,1137.2 969.3,1125.4 971.3,1113.6 973.4,1101.8 975.4,1090.0 977.6,1078.8 979.8,1067.5 982.0,1056.2 984.2,1045.0 986.4,1033.8 988.6,1022.5 990.8,1011.2 993.0,1000.0 995.2,986.2 997.3,972.3 999.5,958.5 1001.3,945.4 1003.1,932.3 1004.9,919.2 1006.6,906.2 1008.4,893.1 1010.2,880.0 1012.5,868.5 1014.8,857.1 1017.0,845.6 1019.3,834.2 1021.6,822.7 1023.4,814.4 1025.2,806.0 1027.2,754.0 1027.8,718.0 1029.0,708.0 1032.0,698.0 1037.0,691.0 1039.0,690.4 1041.0,689.8 1043.0,689.2 1045.0,688.6 1047.0,688.0 1049.2,687.7 1051.3,687.3 1053.5,687.0 1055.8,686.2 1058.0,685.5 1060.2,684.8 1062.5,684.0 1064.8,683.2 1067.0,682.5 1069.0,681.1 1070.9,679.7 1072.8,678.2 1074.8,676.8 1076.8,675.4 1078.7,674.0 1080.8,672.1 1083.0,670.3 1085.1,668.4 1087.2,666.5 1089.3,664.6 1091.5,662.8 1093.6,660.9 1095.7,659.0 1097.9,657.2 1100.0,655.3 1102.1,653.8 1104.3,652.3 1106.4,650.8 1108.6,649.3 1110.7,647.7 1112.9,646.2 1115.0,644.7 1117.2,643.2 1119.3,641.7 1121.3,640.6 1123.4,639.5 1125.4,638.4 1127.5,637.2 1129.5,636.1 1131.6,635.0 1133.6,633.9 1135.7,632.8 1137.7,631.7 1139.8,630.6 1141.8,629.5 1143.9,628.3 1145.9,627.2 1148.0,626.1 1150.0,625.0 1152.1,624.3 1154.2,623.6 1156.4,622.9 1158.5,622.1 1160.6,621.4 1162.8,620.7 1164.9,620.0 1167.0,619.3 1169.1,618.5 1171.2,617.8 1173.4,617.1 1175.5,616.4 1177.6,617.1 1179.8,617.8 1181.9,618.5 1184.0,619.3 1186.1,620.0 1188.2,620.7 1190.4,621.4 1192.5,622.1 1194.6,622.9 1196.8,623.6 1198.9,624.3 1201.0,625.0 1203.0,626.1 1205.1,627.2 1207.1,628.3 1209.2,629.5 1211.2,630.6 1213.3,631.7 1215.3,632.8 1217.4,633.9 1219.4,635.0 1221.5,636.1 1223.5,637.2 1225.6,638.4 1227.6,639.5 1229.7,640.6 1231.7,641.7 1233.8,643.2 1236.0,644.7 1238.1,646.2 1240.3,647.7 1242.4,649.3 1244.6,650.8 1246.7,652.3 1248.9,653.8 1251.0,655.3 1253.1,657.2 1255.3,659.0 1257.4,660.9 1259.5,662.8 1261.7,664.6 1263.8,666.5 1265.9,668.4 1268.0,670.3 1270.2,672.1 1272.3,674.0 1274.2,675.4 1276.2,676.8 1278.2,678.2 1280.1,679.7 1282.0,681.1 1284.0,682.5 1286.2,683.2 1288.5,684.0 1290.8,684.8 1293.0,685.5 1295.2,686.2 1297.5,687.0 1299.7,687.3 1301.8,687.7 1304.0,688.0 1310.0,690.0 1315.0,697.0 1318.0,706.0 1321.0,716.0 1321.4,760.0 1322.5,800.0 1324.5,806.0 1326.6,812.0 1329.4,822.7 1331.7,834.2 1334.0,845.6 1336.2,857.1 1338.5,868.5 1340.8,880.0 1342.6,893.1 1344.4,906.2 1346.2,919.2 1347.9,932.3 1349.7,945.4 1351.5,958.5 1353.7,972.3 1355.8,986.2 1358.0,1000.0 1360.2,1011.2 1362.4,1022.5 1364.6,1033.8 1366.8,1045.0 1369.0,1056.2 1371.2,1067.5 1373.4,1078.8 1375.6,1090.0 1377.6,1101.8 1379.7,1113.6 1381.7,1125.4 1383.7,1137.2 1385.8,1149.1 1387.8,1160.9 1389.8,1172.7 1391.9,1184.5 1393.9,1196.3 1395.7,1209.7 1397.5,1223.2 1399.3,1236.6 1401.1,1250.0 1403.1,1262.5 1405.1,1275.0 1407.1,1287.5 1409.1,1300.0 1410.9,1313.3 1412.7,1326.7 1414.5,1340.0 1416.5,1353.8 1418.5,1367.5 1420.8,1378.8 1423.0,1390.0 1425.0,1401.2 1427.1,1412.5 1428.9,1424.0 1430.8,1435.6 1432.6,1442.7 1434.4,1449.7 1436.2,1456.8 1438.1,1458.9 1440.1,1460.9 1442.0,1463.0 1444.3,1465.7 1446.7,1468.3 1449.0,1471.0 1451.2,1472.5 1453.5,1474.0 1455.8,1475.5 1458.0,1477.0 1460.2,1477.7 1462.3,1478.3 1464.5,1479.0 1466.7,1479.7 1468.8,1480.3 1471.0,1481.0 1473.0,1481.2 1475.0,1481.4 1477.0,1481.6 1479.0,1481.8 1481.0,1482.0 1483.0,1482.2 1485.0,1482.4 1487.0,1482.6 1489.0,1482.8 1491.0,1483.0 1493.1,1483.1 1495.2,1483.1 1497.3,1483.2 1499.4,1483.2 1501.5,1483.3 1503.6,1483.3 1505.7,1483.4 1507.8,1483.4 1509.9,1483.5 1512.1,1483.5 1514.2,1483.6 1516.3,1483.6 1518.4,1483.7 1520.5,1483.7 1522.6,1483.8 1524.7,1483.8 1526.8,1483.9 1528.9,1483.9 1531.0,1484.0 1533.1,1484.0 1535.2,1484.0 1537.3,1484.0 1539.4,1484.0 1541.5,1484.0 1543.6,1484.0 1545.7,1484.0 1547.8,1484.0 1549.9,1484.0 1552.0,1484.0 1554.0,1484.0 1556.1,1484.0 1558.2,1484.0 1560.3,1484.0 1562.4,1484.0 1564.5,1484.0 1566.6,1484.0 1568.7,1484.0 1570.8,1484.0 1572.9,1484.0 1575.0,1484.0 1577.1,1484.0 1579.2,1484.0 1581.3,1484.0 1583.4,1484.0 1585.5,1484.0 1587.6,1484.0 1589.7,1484.0 1591.8,1484.0 1593.9,1484.0 1596.0,1484.0 1598.0,1484.0 1600.1,1484.0 1602.2,1484.0 1604.3,1484.0 1606.4,1484.0 1608.5,1484.0 1610.6,1484.0 1612.7,1484.0 1614.8,1484.0 1616.9,1484.0 1619.0,1484.0 1621.1,1484.0 1623.2,1484.0 1625.3,1484.0 1627.4,1484.0 1629.5,1484.0 1631.6,1484.0 1633.7,1484.0 1635.8,1484.0 1637.9,1484.0 1640.0,1484.0 1642.0,1484.0 1644.1,1484.0 1646.2,1484.0 1648.3,1484.0 1650.4,1484.0 1652.5,1484.0 1654.6,1484.0 1656.7,1484.0 1658.8,1484.0 1660.9,1484.0 1663.0,1484.0 1665.1,1484.0 1667.2,1484.0 1669.3,1484.0 1671.4,1484.0 1673.5,1484.0 1675.6,1484.0 1677.7,1484.0 1679.8,1484.0 1681.9,1484.0 1684.0,1484.0 1686.0,1484.0 1688.1,1484.0 1690.2,1484.0 1692.3,1484.0 1694.4,1484.0 1696.5,1484.0 1698.6,1484.0 1700.7,1484.0 1702.8,1484.0 1704.9,1484.0 1707.0,1484.0 1709.1,1484.0 1711.2,1484.0 1713.3,1484.0 1715.4,1484.0 1717.5,1484.0 1719.6,1484.0 1721.7,1484.0 1723.8,1484.0 1725.9,1484.0 1728.0,1484.0 1730.0,1484.0 1732.1,1484.0 1734.2,1484.0 1736.3,1484.0 1738.4,1484.0 1740.5,1484.0 1742.6,1484.0 1744.7,1484.0 1746.8,1484.0 1748.9,1484.0 1751.0,1484.0" fill="none" stroke="#235DCB" stroke-width="10.5" stroke-linejoin="round" stroke-linecap="round"/>
<polyline points="600.0,1484.0 602.1,1484.0 604.2,1484.0 606.3,1484.0 608.4,1484.0 610.5,1484.0 612.6,1484.0 614.7,1484.0 616.8,1484.0 618.9,1484.0 621.0,1484.0 623.0,1484.0 625.1,1484.0 627.2,1484.0 629.3,1484.0 631.4,1484.0 633.5,1484.0 635.6,1484.0 637.7,1484.0 639.8,1484.0 641.9,1484.0 644.0,1484.0 646.1,1484.0 648.2,1484.0 650.3,1484.0 652.4,1484.0 654.5,1484.0 656.6,1484.0 658.7,1484.0 660.8,1484.0 662.9,1484.0 665.0,1484.0 667.0,1484.0 669.1,1484.0 671.2,1484.0 673.3,1484.0 675.4,1484.0 677.5,1484.0 679.6,1484.0 681.7,1484.0 683.8,1484.0 685.9,1484.0 688.0,1484.0 690.1,1484.0 692.2,1484.0 694.3,1484.0 696.4,1484.0 698.5,1484.0 700.6,1484.0 702.7,1484.0 704.8,1484.0 706.9,1484.0 709.0,1484.0 711.0,1484.0 713.1,1484.0 715.2,1484.0 717.3,1484.0 719.4,1484.0 721.5,1484.0 723.6,1484.0 725.7,1484.0 727.8,1484.0 729.9,1484.0 732.0,1484.0 734.1,1484.0 736.2,1484.0 738.3,1484.0 740.4,1484.0 742.5,1484.0 744.6,1484.0 746.7,1484.0 748.8,1484.0 750.9,1484.0 753.0,1484.0 755.0,1484.0 757.1,1484.0 759.2,1484.0 761.3,1484.0 763.4,1484.0 765.5,1484.0 767.6,1484.0 769.7,1484.0 771.8,1484.0 773.9,1484.0 776.0,1484.0 778.1,1484.0 780.2,1484.0 782.3,1484.0 784.4,1484.0 786.5,1484.0 788.6,1484.0 790.7,1484.0 792.8,1484.0 794.9,1484.0 797.0,1484.0 799.0,1484.0 801.1,1484.0 803.2,1484.0 805.3,1484.0 807.4,1484.0 809.5,1484.0 811.6,1484.0 813.7,1484.0 815.8,1484.0 817.9,1484.0 820.0,1484.0 822.1,1483.9 824.2,1483.9 826.3,1483.8 828.4,1483.8 830.5,1483.7 832.6,1483.7 834.7,1483.6 836.8,1483.6 838.9,1483.5 841.1,1483.5 843.2,1483.4 845.3,1483.4 847.4,1483.3 849.5,1483.3 851.6,1483.2 853.7,1483.2 855.8,1483.1 857.9,1483.1 860.0,1483.0 862.0,1482.8 864.0,1482.6 866.0,1482.4 868.0,1482.2 870.0,1482.0 872.0,1481.8 874.0,1481.6 876.0,1481.4 878.0,1481.2 880.0,1481.0 882.2,1480.3 884.3,1479.7 886.5,1479.0 888.7,1478.3 890.8,1477.7 893.0,1477.0 895.2,1475.5 897.5,1474.0 899.8,1472.5 902.0,1471.0 904.3,1468.3 906.7,1465.7 909.0,1463.0 910.9,1460.9 912.9,1458.9 914.8,1456.8 916.6,1449.7 918.4,1442.7 920.2,1435.6 922.0,1424.0 923.9,1412.5 926.0,1401.2 928.0,1390.0 930.2,1378.8 932.5,1367.5 934.5,1353.8 936.5,1340.0 938.3,1326.7 940.1,1313.3 941.9,1300.0 943.9,1287.5 945.9,1275.0 947.9,1262.5 949.9,1250.0 951.7,1236.6 953.5,1223.2 955.3,1209.7 957.1,1196.3 959.1,1184.5 961.2,1172.7 963.2,1160.9 965.2,1149.1 967.3,1137.2 969.3,1125.4 971.3,1113.6 973.4,1101.8 975.4,1090.0 977.6,1078.8 979.8,1067.5 982.0,1056.2 984.2,1045.0 986.4,1033.8 988.6,1022.5 990.8,1011.2 993.0,1000.0 995.2,986.2 997.3,972.3 999.5,958.5 1001.3,945.4 1003.1,932.3 1004.9,919.2 1006.6,906.2 1008.4,893.1 1010.2,880.0 1012.5,868.5 1014.8,857.1 1017.0,845.6 1019.3,834.2 1021.6,822.7 1023.4,814.4 1025.2,806.0 1027.2,754.0 1027.8,718.0 1029.0,708.0 1032.0,698.0 1037.0,691.0 1039.0,690.4 1041.0,689.8 1043.0,689.2 1045.0,688.6 1047.0,688.0 1049.2,687.7 1051.3,687.3 1053.5,687.0 1055.8,686.2 1058.0,685.5 1060.2,684.8 1062.5,684.0 1064.8,683.2 1067.0,682.5 1069.0,681.1 1070.9,679.7 1072.8,678.2 1074.8,676.8 1076.8,675.4 1078.7,674.0 1080.8,672.1 1083.0,670.3 1085.1,668.4 1087.2,666.5 1089.3,664.6 1091.5,662.8 1093.6,660.9 1095.7,659.0 1097.9,657.2 1100.0,655.3 1102.1,653.8 1104.3,652.3 1106.4,650.8 1108.6,649.3 1110.7,647.7 1112.9,646.2 1115.0,644.7 1117.2,643.2 1119.3,641.7 1121.3,640.6 1123.4,639.5 1125.4,638.4 1127.5,637.2 1129.5,636.1 1131.6,635.0 1133.6,633.9 1135.7,632.8 1137.7,631.7 1139.8,630.6 1141.8,629.5 1143.9,628.3 1145.9,627.2 1148.0,626.1 1150.0,625.0 1152.1,624.3 1154.2,623.6 1156.4,622.9 1158.5,622.1 1160.6,621.4 1162.8,620.7 1164.9,620.0 1167.0,619.3 1169.1,618.5 1171.2,617.8 1173.4,617.1 1175.5,616.4 1177.6,617.1 1179.8,617.8 1181.9,618.5 1184.0,619.3 1186.1,620.0 1188.2,620.7 1190.4,621.4 1192.5,622.1 1194.6,622.9 1196.8,623.6 1198.9,624.3 1201.0,625.0 1203.0,626.1 1205.1,627.2 1207.1,628.3 1209.2,629.5 1211.2,630.6 1213.3,631.7 1215.3,632.8 1217.4,633.9 1219.4,635.0 1221.5,636.1 1223.5,637.2 1225.6,638.4 1227.6,639.5 1229.7,640.6 1231.7,641.7 1233.8,643.2 1236.0,644.7 1238.1,646.2 1240.3,647.7 1242.4,649.3 1244.6,650.8 1246.7,652.3 1248.9,653.8 1251.0,655.3 1253.1,657.2 1255.3,659.0 1257.4,660.9 1259.5,662.8 1261.7,664.6 1263.8,666.5 1265.9,668.4 1268.0,670.3 1270.2,672.1 1272.3,674.0 1274.2,675.4 1276.2,676.8 1278.2,678.2 1280.1,679.7 1282.0,681.1 1284.0,682.5 1286.2,683.2 1288.5,684.0 1290.8,684.8 1293.0,685.5 1295.2,686.2 1297.5,687.0 1299.7,687.3 1301.8,687.7 1304.0,688.0 1310.0,690.0 1315.0,697.0 1318.0,706.0 1321.0,716.0 1322.5,800.0 1324.5,806.0 1326.6,812.0 1329.4,822.7 1331.7,834.2 1334.0,845.6 1336.2,857.1 1338.5,868.5 1340.8,880.0 1342.6,893.1 1344.4,906.2 1346.2,919.2 1347.9,932.3 1349.7,945.4 1351.5,958.5 1353.7,972.3 1355.8,986.2 1358.0,1000.0 1360.2,1011.2 1362.4,1022.5 1364.6,1033.8 1366.8,1045.0 1369.0,1056.2 1371.2,1067.5 1373.4,1078.8 1375.6,1090.0 1377.6,1101.8 1379.7,1113.6 1381.7,1125.4 1383.7,1137.2 1385.8,1149.1 1387.8,1160.9 1389.8,1172.7 1391.9,1184.5 1393.9,1196.3 1395.7,1209.7 1397.5,1223.2 1399.3,1236.6 1401.1,1250.0 1403.1,1262.5 1405.1,1275.0 1407.1,1287.5 1409.1,1300.0 1410.9,1313.3 1412.7,1326.7 1414.5,1340.0 1416.5,1353.8 1418.5,1367.5 1420.8,1378.8 1423.0,1390.0 1425.0,1401.2 1427.1,1412.5 1428.9,1424.0 1430.8,1435.6 1432.6,1442.7 1434.4,1449.7 1436.2,1456.8 1438.1,1458.9 1440.1,1460.9 1442.0,1463.0 1444.3,1465.7 1446.7,1468.3 1449.0,1471.0 1451.2,1472.5 1453.5,1474.0 1455.8,1475.5 1458.0,1477.0 1460.2,1477.7 1462.3,1478.3 1464.5,1479.0 1466.7,1479.7 1468.8,1480.3 1471.0,1481.0 1473.0,1481.2 1475.0,1481.4 1477.0,1481.6 1479.0,1481.8 1481.0,1482.0 1483.0,1482.2 1485.0,1482.4 1487.0,1482.6 1489.0,1482.8 1491.0,1483.0 1493.1,1483.1 1495.2,1483.1 1497.3,1483.2 1499.4,1483.2 1501.5,1483.3 1503.6,1483.3 1505.7,1483.4 1507.8,1483.4 1509.9,1483.5 1512.1,1483.5 1514.2,1483.6 1516.3,1483.6 1518.4,1483.7 1520.5,1483.7 1522.6,1483.8 1524.7,1483.8 1526.8,1483.9 1528.9,1483.9 1531.0,1484.0 1533.1,1484.0 1535.2,1484.0 1537.3,1484.0 1539.4,1484.0 1541.5,1484.0 1543.6,1484.0 1545.7,1484.0 1547.8,1484.0 1549.9,1484.0 1552.0,1484.0 1554.0,1484.0 1556.1,1484.0 1558.2,1484.0 1560.3,1484.0 1562.4,1484.0 1564.5,1484.0 1566.6,1484.0 1568.7,1484.0 1570.8,1484.0 1572.9,1484.0 1575.0,1484.0 1577.1,1484.0 1579.2,1484.0 1581.3,1484.0 1583.4,1484.0 1585.5,1484.0 1587.6,1484.0 1589.7,1484.0 1591.8,1484.0 1593.9,1484.0 1596.0,1484.0 1598.0,1484.0 1600.1,1484.0 1602.2,1484.0 1604.3,1484.0 1606.4,1484.0 1608.5,1484.0 1610.6,1484.0 1612.7,1484.0 1614.8,1484.0 1616.9,1484.0 1619.0,1484.0 1621.1,1484.0 1623.2,1484.0 1625.3,1484.0 1627.4,1484.0 1629.5,1484.0 1631.6,1484.0 1633.7,1484.0 1635.8,1484.0 1637.9,1484.0 1640.0,1484.0 1642.0,1484.0 1644.1,1484.0 1646.2,1484.0 1648.3,1484.0 1650.4,1484.0 1652.5,1484.0 1654.6,1484.0 1656.7,1484.0 1658.8,1484.0 1660.9,1484.0 1663.0,1484.0 1665.1,1484.0 1667.2,1484.0 1669.3,1484.0 1671.4,1484.0 1673.5,1484.0 1675.6,1484.0 1677.7,1484.0 1679.8,1484.0 1681.9,1484.0 1684.0,1484.0 1686.0,1484.0 1688.1,1484.0 1690.2,1484.0 1692.3,1484.0 1694.4,1484.0 1696.5,1484.0 1698.6,1484.0 1700.7,1484.0 1702.8,1484.0 1704.9,1484.0 1707.0,1484.0 1709.1,1484.0 1711.2,1484.0 1713.3,1484.0 1715.4,1484.0 1717.5,1484.0 1719.6,1484.0 1721.7,1484.0 1723.8,1484.0 1725.9,1484.0 1728.0,1484.0 1730.0,1484.0 1732.1,1484.0 1734.2,1484.0 1736.3,1484.0 1738.4,1484.0 1740.5,1484.0 1742.6,1484.0 1744.7,1484.0 1746.8,1484.0 1748.9,1484.0 1751.0,1484.0" fill="none" stroke="none" marker-start="url(#m_blue)" marker-mid="url(#m_blue)" marker-end="url(#m_blue)"/>
<polyline points="590.0,1484.0 592.1,1484.0 594.2,1484.0 596.3,1484.0 598.4,1484.0 600.4,1484.0 602.5,1484.0 604.6,1484.0 606.7,1484.0 608.8,1484.0 610.9,1483.9 613.0,1483.9 615.1,1483.9 617.1,1483.9 619.2,1483.9 621.3,1483.9 623.4,1483.9 625.5,1483.9 627.6,1483.9 629.7,1483.9 631.8,1483.9 633.8,1483.9 635.9,1483.9 638.0,1483.9 640.1,1483.9 642.2,1483.9 644.3,1483.9 646.4,1483.9 648.5,1483.8 650.5,1483.8 652.6,1483.8 654.7,1483.8 656.8,1483.8 658.9,1483.8 661.0,1483.8 663.1,1483.8 665.2,1483.8 667.3,1483.8 669.3,1483.8 671.4,1483.8 673.5,1483.8 675.6,1483.8 677.7,1483.8 679.8,1483.8 681.9,1483.8 684.0,1483.8 686.0,1483.7 688.1,1483.7 690.2,1483.7 692.3,1483.7 694.4,1483.7 696.5,1483.7 698.6,1483.7 700.7,1483.7 702.7,1483.7 704.8,1483.7 706.9,1483.7 709.0,1483.7 711.1,1483.7 713.2,1483.7 715.3,1483.7 717.4,1483.7 719.5,1483.7 721.5,1483.7 723.6,1483.6 725.7,1483.6 727.8,1483.6 729.9,1483.6 732.0,1483.6 734.1,1483.6 736.2,1483.6 738.2,1483.6 740.3,1483.6 742.4,1483.6 744.5,1483.6 746.6,1483.6 748.7,1483.6 750.8,1483.6 752.9,1483.6 754.9,1483.6 757.0,1483.6 759.1,1483.6 761.2,1483.5 763.3,1483.5 765.4,1483.5 767.5,1483.5 769.6,1483.5 771.6,1483.5 773.7,1483.5 775.8,1483.5 777.9,1483.5 780.0,1483.5 782.1,1483.4 784.2,1483.4 786.3,1483.3 788.4,1483.3 790.5,1483.2 792.6,1483.2 794.7,1483.1 796.8,1483.1 798.9,1483.0 801.1,1483.0 803.2,1482.9 805.3,1482.9 807.4,1482.8 809.5,1482.8 811.6,1482.7 813.7,1482.7 815.8,1482.6 817.9,1482.6 820.0,1482.5 822.1,1482.3 824.2,1482.2 826.2,1482.0 828.3,1481.8 830.4,1481.7 832.5,1481.5 834.6,1481.3 836.7,1481.2 838.8,1481.0 840.8,1480.8 842.9,1480.7 845.0,1480.5 847.1,1480.0 849.3,1479.5 851.4,1479.0 853.6,1478.5 855.7,1478.0 857.9,1477.5 860.0,1477.0 862.0,1475.8 864.0,1474.7 866.0,1473.5 868.0,1472.3 870.0,1471.2 872.0,1470.0 874.0,1467.8 876.0,1465.5 878.0,1463.2 880.0,1461.0 882.5,1455.5 885.0,1450.0 886.9,1442.8 888.8,1435.6 890.3,1424.0 891.8,1412.5 894.1,1402.8 896.5,1393.0 898.6,1380.2 900.8,1367.5 902.8,1353.8 904.8,1340.0 906.7,1326.7 908.5,1313.3 910.4,1300.0 912.3,1290.0 914.2,1280.0 916.1,1270.0 918.0,1260.0 919.9,1250.0 922.0,1235.3 924.1,1220.6 926.2,1205.9 928.3,1191.2 930.4,1176.5 932.5,1161.8 934.6,1147.1 936.7,1132.4 938.9,1117.6 941.0,1102.9 943.1,1088.2 945.2,1073.5 947.3,1058.8 949.4,1044.1 951.5,1029.4 953.6,1014.7 955.7,1000.0 958.0,986.1 960.3,972.2 962.6,958.3 964.7,944.3 966.7,930.3 968.8,916.3 970.8,902.4 972.9,888.4 974.9,874.4 977.0,860.4 979.1,847.3 981.1,834.2 983.2,821.1 985.3,808.0 987.3,794.9 989.4,781.8 990.8,772.8 992.3,763.8 994.5,752.8 996.6,741.9 998.8,731.0 1001.0,720.0 1003.3,707.7 1005.5,637.7 1007.0,598.2 1009.8,570.5 1013.0,556.0 1018.0,549.0 1020.0,547.5 1022.0,546.0 1024.0,544.5 1026.0,543.0 1028.3,542.5 1030.7,542.0 1033.0,541.5 1035.0,539.6 1037.0,537.8 1039.0,536.0 1041.0,534.1 1043.0,532.2 1045.0,530.4 1047.0,528.2 1049.0,526.0 1051.0,523.8 1053.0,521.5 1055.0,519.3 1057.0,517.1 1059.0,514.9 1061.0,513.1 1063.0,511.4 1065.0,509.6 1067.0,507.9 1069.0,506.1 1071.0,504.3 1073.0,502.6 1075.0,500.8 1077.0,499.1 1079.0,497.3 1081.2,495.7 1083.3,494.1 1085.5,492.5 1087.7,490.9 1089.8,489.3 1092.0,487.6 1094.2,486.0 1096.3,484.4 1098.5,482.8 1100.7,481.2 1102.8,479.6 1105.0,478.0 1107.0,476.6 1109.1,475.1 1111.2,473.7 1113.2,472.3 1115.2,470.8 1117.3,469.4 1119.3,467.9 1121.4,466.5 1123.5,465.1 1125.5,463.6 1127.5,462.2 1129.6,460.8 1131.7,459.3 1133.7,457.9 1135.8,456.6 1138.0,455.3 1140.1,454.0 1142.2,452.7 1144.3,451.4 1146.5,450.2 1148.6,448.9 1150.7,447.6 1152.9,446.3 1155.0,445.0 1157.0,444.2 1159.1,443.5 1161.2,442.7 1163.2,441.9 1165.2,441.1 1167.3,440.4 1169.3,439.6 1171.4,438.8 1173.5,438.1 1175.5,437.3 1177.5,438.1 1179.6,438.8 1181.7,439.6 1183.7,440.4 1185.8,441.1 1187.8,441.9 1189.8,442.7 1191.9,443.5 1194.0,444.2 1196.0,445.0 1198.1,446.3 1200.3,447.6 1202.4,448.9 1204.5,450.2 1206.7,451.4 1208.8,452.7 1210.9,454.0 1213.0,455.3 1215.2,456.6 1217.3,457.9 1219.3,459.3 1221.4,460.8 1223.5,462.2 1225.5,463.6 1227.5,465.1 1229.6,466.5 1231.7,467.9 1233.7,469.4 1235.8,470.8 1237.8,472.3 1239.8,473.7 1241.9,475.1 1244.0,476.6 1246.0,478.0 1248.2,479.6 1250.3,481.2 1252.5,482.8 1254.7,484.4 1256.8,486.0 1259.0,487.6 1261.2,489.3 1263.3,490.9 1265.5,492.5 1267.7,494.1 1269.8,495.7 1272.0,497.3 1274.0,499.1 1276.0,500.8 1278.0,502.6 1280.0,504.3 1282.0,506.1 1284.0,507.9 1286.0,509.6 1288.0,511.4 1290.0,513.1 1292.0,514.9 1294.0,517.1 1296.0,519.3 1298.0,521.5 1300.0,523.8 1302.0,526.0 1304.0,528.2 1306.0,530.4 1308.0,532.2 1310.0,534.1 1312.0,536.0 1314.0,537.8 1316.0,539.6 1318.0,541.5 1320.3,542.0 1322.7,542.5 1325.0,543.0 1327.0,544.5 1329.0,546.0 1331.0,547.5 1333.0,549.0 1338.0,556.0 1341.2,570.5 1344.0,598.2 1345.5,637.7 1347.7,707.7 1350.0,720.0 1352.2,731.0 1354.3,741.9 1356.5,752.8 1358.7,763.8 1360.2,772.8 1361.6,781.8 1363.7,794.9 1365.7,808.0 1367.8,821.1 1369.9,834.2 1371.9,847.3 1374.0,860.4 1376.1,874.4 1378.1,888.4 1380.2,902.4 1382.2,916.3 1384.3,930.3 1386.3,944.3 1388.4,958.3 1390.7,972.2 1393.0,986.1 1395.3,1000.0 1397.4,1014.7 1399.5,1029.4 1401.6,1044.1 1403.7,1058.8 1405.8,1073.5 1407.9,1088.2 1410.0,1102.9 1412.1,1117.6 1414.3,1132.4 1416.4,1147.1 1418.5,1161.8 1420.6,1176.5 1422.7,1191.2 1424.8,1205.9 1426.9,1220.6 1429.0,1235.3 1431.1,1250.0 1433.0,1260.0 1434.9,1270.0 1436.8,1280.0 1438.7,1290.0 1440.6,1300.0 1442.5,1313.3 1444.3,1326.7 1446.2,1340.0 1448.2,1353.8 1450.2,1367.5 1452.3,1380.2 1454.5,1393.0 1456.8,1402.8 1459.2,1412.5 1460.7,1424.0 1462.2,1435.6 1464.1,1442.8 1466.0,1450.0 1468.5,1455.5 1471.0,1461.0 1473.0,1463.2 1475.0,1465.5 1477.0,1467.8 1479.0,1470.0 1481.0,1471.2 1483.0,1472.3 1485.0,1473.5 1487.0,1474.7 1489.0,1475.8 1491.0,1477.0 1493.1,1477.5 1495.3,1478.0 1497.4,1478.5 1499.6,1479.0 1501.7,1479.5 1503.9,1480.0 1506.0,1480.5 1508.1,1480.7 1510.2,1480.8 1512.2,1481.0 1514.3,1481.2 1516.4,1481.3 1518.5,1481.5 1520.6,1481.7 1522.7,1481.8 1524.8,1482.0 1526.8,1482.2 1528.9,1482.3 1531.0,1482.5 1533.1,1482.6 1535.2,1482.6 1537.3,1482.7 1539.4,1482.7 1541.5,1482.8 1543.6,1482.8 1545.7,1482.9 1547.8,1482.9 1549.9,1483.0 1552.1,1483.0 1554.2,1483.1 1556.3,1483.1 1558.4,1483.2 1560.5,1483.2 1562.6,1483.3 1564.7,1483.3 1566.8,1483.4 1568.9,1483.4 1571.0,1483.5 1573.1,1483.5 1575.2,1483.5 1577.3,1483.5 1579.4,1483.5 1581.4,1483.5 1583.5,1483.5 1585.6,1483.5 1587.7,1483.5 1589.8,1483.5 1591.9,1483.6 1594.0,1483.6 1596.1,1483.6 1598.1,1483.6 1600.2,1483.6 1602.3,1483.6 1604.4,1483.6 1606.5,1483.6 1608.6,1483.6 1610.7,1483.6 1612.8,1483.6 1614.8,1483.6 1616.9,1483.6 1619.0,1483.6 1621.1,1483.6 1623.2,1483.6 1625.3,1483.6 1627.4,1483.6 1629.5,1483.7 1631.5,1483.7 1633.6,1483.7 1635.7,1483.7 1637.8,1483.7 1639.9,1483.7 1642.0,1483.7 1644.1,1483.7 1646.2,1483.7 1648.3,1483.7 1650.3,1483.7 1652.4,1483.7 1654.5,1483.7 1656.6,1483.7 1658.7,1483.7 1660.8,1483.7 1662.9,1483.7 1665.0,1483.7 1667.0,1483.8 1669.1,1483.8 1671.2,1483.8 1673.3,1483.8 1675.4,1483.8 1677.5,1483.8 1679.6,1483.8 1681.7,1483.8 1683.7,1483.8 1685.8,1483.8 1687.9,1483.8 1690.0,1483.8 1692.1,1483.8 1694.2,1483.8 1696.3,1483.8 1698.4,1483.8 1700.5,1483.8 1702.5,1483.8 1704.6,1483.9 1706.7,1483.9 1708.8,1483.9 1710.9,1483.9 1713.0,1483.9 1715.1,1483.9 1717.2,1483.9 1719.2,1483.9 1721.3,1483.9 1723.4,1483.9 1725.5,1483.9 1727.6,1483.9 1729.7,1483.9 1731.8,1483.9 1733.9,1483.9 1735.9,1483.9 1738.0,1483.9 1740.1,1483.9 1742.2,1484.0 1744.3,1484.0 1746.4,1484.0 1748.5,1484.0 1750.6,1484.0 1752.6,1484.0 1754.7,1484.0 1756.8,1484.0 1758.9,1484.0 1761.0,1484.0" fill="none" stroke="#7030A0" stroke-width="10.5" stroke-linejoin="round" stroke-linecap="round"/>
<polyline points="590.0,1484.0 592.1,1484.0 594.2,1484.0 596.3,1484.0 598.4,1484.0 600.4,1484.0 602.5,1484.0 604.6,1484.0 606.7,1484.0 608.8,1484.0 610.9,1483.9 613.0,1483.9 615.1,1483.9 617.1,1483.9 619.2,1483.9 621.3,1483.9 623.4,1483.9 625.5,1483.9 627.6,1483.9 629.7,1483.9 631.8,1483.9 633.8,1483.9 635.9,1483.9 638.0,1483.9 640.1,1483.9 642.2,1483.9 644.3,1483.9 646.4,1483.9 648.5,1483.8 650.5,1483.8 652.6,1483.8 654.7,1483.8 656.8,1483.8 658.9,1483.8 661.0,1483.8 663.1,1483.8 665.2,1483.8 667.3,1483.8 669.3,1483.8 671.4,1483.8 673.5,1483.8 675.6,1483.8 677.7,1483.8 679.8,1483.8 681.9,1483.8 684.0,1483.8 686.0,1483.7 688.1,1483.7 690.2,1483.7 692.3,1483.7 694.4,1483.7 696.5,1483.7 698.6,1483.7 700.7,1483.7 702.7,1483.7 704.8,1483.7 706.9,1483.7 709.0,1483.7 711.1,1483.7 713.2,1483.7 715.3,1483.7 717.4,1483.7 719.5,1483.7 721.5,1483.7 723.6,1483.6 725.7,1483.6 727.8,1483.6 729.9,1483.6 732.0,1483.6 734.1,1483.6 736.2,1483.6 738.2,1483.6 740.3,1483.6 742.4,1483.6 744.5,1483.6 746.6,1483.6 748.7,1483.6 750.8,1483.6 752.9,1483.6 754.9,1483.6 757.0,1483.6 759.1,1483.6 761.2,1483.5 763.3,1483.5 765.4,1483.5 767.5,1483.5 769.6,1483.5 771.6,1483.5 773.7,1483.5 775.8,1483.5 777.9,1483.5 780.0,1483.5 782.1,1483.4 784.2,1483.4 786.3,1483.3 788.4,1483.3 790.5,1483.2 792.6,1483.2 794.7,1483.1 796.8,1483.1 798.9,1483.0 801.1,1483.0 803.2,1482.9 805.3,1482.9 807.4,1482.8 809.5,1482.8 811.6,1482.7 813.7,1482.7 815.8,1482.6 817.9,1482.6 820.0,1482.5 822.1,1482.3 824.2,1482.2 826.2,1482.0 828.3,1481.8 830.4,1481.7 832.5,1481.5 834.6,1481.3 836.7,1481.2 838.8,1481.0 840.8,1480.8 842.9,1480.7 845.0,1480.5 847.1,1480.0 849.3,1479.5 851.4,1479.0 853.6,1478.5 855.7,1478.0 857.9,1477.5 860.0,1477.0 862.0,1475.8 864.0,1474.7 866.0,1473.5 868.0,1472.3 870.0,1471.2 872.0,1470.0 874.0,1467.8 876.0,1465.5 878.0,1463.2 880.0,1461.0 882.5,1455.5 885.0,1450.0 886.9,1442.8 888.8,1435.6 890.3,1424.0 891.8,1412.5 894.1,1402.8 896.5,1393.0 898.6,1380.2 900.8,1367.5 902.8,1353.8 904.8,1340.0 906.7,1326.7 908.5,1313.3 910.4,1300.0 912.3,1290.0 914.2,1280.0 916.1,1270.0 918.0,1260.0 919.9,1250.0 922.0,1235.3 924.1,1220.6 926.2,1205.9 928.3,1191.2 930.4,1176.5 932.5,1161.8 934.6,1147.1 936.7,1132.4 938.9,1117.6 941.0,1102.9 943.1,1088.2 945.2,1073.5 947.3,1058.8 949.4,1044.1 951.5,1029.4 953.6,1014.7 955.7,1000.0 958.0,986.1 960.3,972.2 962.6,958.3 964.7,944.3 966.7,930.3 968.8,916.3 970.8,902.4 972.9,888.4 974.9,874.4 977.0,860.4 979.1,847.3 981.1,834.2 983.2,821.1 985.3,808.0 987.3,794.9 989.4,781.8 990.8,772.8 992.3,763.8 994.5,752.8 996.6,741.9 998.8,731.0 1001.0,720.0 1003.3,707.7 1005.5,637.7 1007.0,598.2 1009.8,570.5 1013.0,556.0 1018.0,549.0 1020.0,547.5 1022.0,546.0 1024.0,544.5 1026.0,543.0 1028.3,542.5 1030.7,542.0 1033.0,541.5 1035.0,539.6 1037.0,537.8 1039.0,536.0 1041.0,534.1 1043.0,532.2 1045.0,530.4 1047.0,528.2 1049.0,526.0 1051.0,523.8 1053.0,521.5 1055.0,519.3 1057.0,517.1 1059.0,514.9 1061.0,513.1 1063.0,511.4 1065.0,509.6 1067.0,507.9 1069.0,506.1 1071.0,504.3 1073.0,502.6 1075.0,500.8 1077.0,499.1 1079.0,497.3 1081.2,495.7 1083.3,494.1 1085.5,492.5 1087.7,490.9 1089.8,489.3 1092.0,487.6 1094.2,486.0 1096.3,484.4 1098.5,482.8 1100.7,481.2 1102.8,479.6 1105.0,478.0 1107.0,476.6 1109.1,475.1 1111.2,473.7 1113.2,472.3 1115.2,470.8 1117.3,469.4 1119.3,467.9 1121.4,466.5 1123.5,465.1 1125.5,463.6 1127.5,462.2 1129.6,460.8 1131.7,459.3 1133.7,457.9 1135.8,456.6 1138.0,455.3 1140.1,454.0 1142.2,452.7 1144.3,451.4 1146.5,450.2 1148.6,448.9 1150.7,447.6 1152.9,446.3 1155.0,445.0 1157.0,444.2 1159.1,443.5 1161.2,442.7 1163.2,441.9 1165.2,441.1 1167.3,440.4 1169.3,439.6 1171.4,438.8 1173.5,438.1 1175.5,437.3 1177.5,438.1 1179.6,438.8 1181.7,439.6 1183.7,440.4 1185.8,441.1 1187.8,441.9 1189.8,442.7 1191.9,443.5 1194.0,444.2 1196.0,445.0 1198.1,446.3 1200.3,447.6 1202.4,448.9 1204.5,450.2 1206.7,451.4 1208.8,452.7 1210.9,454.0 1213.0,455.3 1215.2,456.6 1217.3,457.9 1219.3,459.3 1221.4,460.8 1223.5,462.2 1225.5,463.6 1227.5,465.1 1229.6,466.5 1231.7,467.9 1233.7,469.4 1235.8,470.8 1237.8,472.3 1239.8,473.7 1241.9,475.1 1244.0,476.6 1246.0,478.0 1248.2,479.6 1250.3,481.2 1252.5,482.8 1254.7,484.4 1256.8,486.0 1259.0,487.6 1261.2,489.3 1263.3,490.9 1265.5,492.5 1267.7,494.1 1269.8,495.7 1272.0,497.3 1274.0,499.1 1276.0,500.8 1278.0,502.6 1280.0,504.3 1282.0,506.1 1284.0,507.9 1286.0,509.6 1288.0,511.4 1290.0,513.1 1292.0,514.9 1294.0,517.1 1296.0,519.3 1298.0,521.5 1300.0,523.8 1302.0,526.0 1304.0,528.2 1306.0,530.4 1308.0,532.2 1310.0,534.1 1312.0,536.0 1314.0,537.8 1316.0,539.6 1318.0,541.5 1320.3,542.0 1322.7,542.5 1325.0,543.0 1327.0,544.5 1329.0,546.0 1331.0,547.5 1333.0,549.0 1338.0,556.0 1341.2,570.5 1344.0,598.2 1345.5,637.7 1347.7,707.7 1350.0,720.0 1352.2,731.0 1354.3,741.9 1356.5,752.8 1358.7,763.8 1360.2,772.8 1361.6,781.8 1363.7,794.9 1365.7,808.0 1367.8,821.1 1369.9,834.2 1371.9,847.3 1374.0,860.4 1376.1,874.4 1378.1,888.4 1380.2,902.4 1382.2,916.3 1384.3,930.3 1386.3,944.3 1388.4,958.3 1390.7,972.2 1393.0,986.1 1395.3,1000.0 1397.4,1014.7 1399.5,1029.4 1401.6,1044.1 1403.7,1058.8 1405.8,1073.5 1407.9,1088.2 1410.0,1102.9 1412.1,1117.6 1414.3,1132.4 1416.4,1147.1 1418.5,1161.8 1420.6,1176.5 1422.7,1191.2 1424.8,1205.9 1426.9,1220.6 1429.0,1235.3 1431.1,1250.0 1433.0,1260.0 1434.9,1270.0 1436.8,1280.0 1438.7,1290.0 1440.6,1300.0 1442.5,1313.3 1444.3,1326.7 1446.2,1340.0 1448.2,1353.8 1450.2,1367.5 1452.3,1380.2 1454.5,1393.0 1456.8,1402.8 1459.2,1412.5 1460.7,1424.0 1462.2,1435.6 1464.1,1442.8 1466.0,1450.0 1468.5,1455.5 1471.0,1461.0 1473.0,1463.2 1475.0,1465.5 1477.0,1467.8 1479.0,1470.0 1481.0,1471.2 1483.0,1472.3 1485.0,1473.5 1487.0,1474.7 1489.0,1475.8 1491.0,1477.0 1493.1,1477.5 1495.3,1478.0 1497.4,1478.5 1499.6,1479.0 1501.7,1479.5 1503.9,1480.0 1506.0,1480.5 1508.1,1480.7 1510.2,1480.8 1512.2,1481.0 1514.3,1481.2 1516.4,1481.3 1518.5,1481.5 1520.6,1481.7 1522.7,1481.8 1524.8,1482.0 1526.8,1482.2 1528.9,1482.3 1531.0,1482.5 1533.1,1482.6 1535.2,1482.6 1537.3,1482.7 1539.4,1482.7 1541.5,1482.8 1543.6,1482.8 1545.7,1482.9 1547.8,1482.9 1549.9,1483.0 1552.1,1483.0 1554.2,1483.1 1556.3,1483.1 1558.4,1483.2 1560.5,1483.2 1562.6,1483.3 1564.7,1483.3 1566.8,1483.4 1568.9,1483.4 1571.0,1483.5 1573.1,1483.5 1575.2,1483.5 1577.3,1483.5 1579.4,1483.5 1581.4,1483.5 1583.5,1483.5 1585.6,1483.5 1587.7,1483.5 1589.8,1483.5 1591.9,1483.6 1594.0,1483.6 1596.1,1483.6 1598.1,1483.6 1600.2,1483.6 1602.3,1483.6 1604.4,1483.6 1606.5,1483.6 1608.6,1483.6 1610.7,1483.6 1612.8,1483.6 1614.8,1483.6 1616.9,1483.6 1619.0,1483.6 1621.1,1483.6 1623.2,1483.6 1625.3,1483.6 1627.4,1483.6 1629.5,1483.7 1631.5,1483.7 1633.6,1483.7 1635.7,1483.7 1637.8,1483.7 1639.9,1483.7 1642.0,1483.7 1644.1,1483.7 1646.2,1483.7 1648.3,1483.7 1650.3,1483.7 1652.4,1483.7 1654.5,1483.7 1656.6,1483.7 1658.7,1483.7 1660.8,1483.7 1662.9,1483.7 1665.0,1483.7 1667.0,1483.8 1669.1,1483.8 1671.2,1483.8 1673.3,1483.8 1675.4,1483.8 1677.5,1483.8 1679.6,1483.8 1681.7,1483.8 1683.7,1483.8 1685.8,1483.8 1687.9,1483.8 1690.0,1483.8 1692.1,1483.8 1694.2,1483.8 1696.3,1483.8 1698.4,1483.8 1700.5,1483.8 1702.5,1483.8 1704.6,1483.9 1706.7,1483.9 1708.8,1483.9 1710.9,1483.9 1713.0,1483.9 1715.1,1483.9 1717.2,1483.9 1719.2,1483.9 1721.3,1483.9 1723.4,1483.9 1725.5,1483.9 1727.6,1483.9 1729.7,1483.9 1731.8,1483.9 1733.9,1483.9 1735.9,1483.9 1738.0,1483.9 1740.1,1483.9 1742.2,1484.0 1744.3,1484.0 1746.4,1484.0 1748.5,1484.0 1750.6,1484.0 1752.6,1484.0 1754.7,1484.0 1756.8,1484.0 1758.9,1484.0 1761.0,1484.0" fill="none" stroke="none" marker-start="url(#m_purple)" marker-mid="url(#m_purple)" marker-end="url(#m_purple)"/>
<polyline points="569.6,1483.0 571.7,1483.0 573.8,1483.0 575.9,1483.0 578.0,1483.0 580.1,1483.0 582.2,1483.0 584.3,1483.0 586.4,1483.0 588.5,1483.0 590.6,1483.0 592.7,1483.0 594.8,1483.0 596.9,1483.0 599.0,1483.0 601.1,1483.0 603.3,1483.0 605.4,1483.0 607.5,1483.0 609.6,1483.0 611.7,1483.0 613.8,1483.0 615.9,1483.0 618.0,1483.0 620.1,1483.0 622.2,1483.0 624.3,1483.0 626.4,1483.0 628.5,1483.0 630.6,1483.0 632.7,1483.0 634.8,1483.0 636.9,1483.0 639.0,1483.0 641.1,1483.0 643.2,1483.0 645.3,1483.0 647.4,1483.0 649.5,1483.0 651.6,1483.0 653.7,1483.0 655.8,1483.0 657.9,1483.0 660.0,1483.0 662.1,1483.0 664.2,1483.0 666.3,1483.0 668.5,1483.0 670.6,1483.0 672.7,1483.0 674.8,1483.0 676.9,1483.0 679.0,1483.0 681.1,1483.0 683.2,1483.0 685.3,1483.0 687.4,1483.0 689.5,1483.0 691.6,1483.0 693.7,1483.0 695.8,1483.0 697.9,1483.0 700.0,1483.0 702.1,1483.0 704.2,1483.0 706.2,1483.0 708.3,1482.9 710.4,1482.9 712.5,1482.9 714.6,1482.9 716.7,1482.9 718.8,1482.9 720.8,1482.9 722.9,1482.8 725.0,1482.8 727.1,1482.8 729.2,1482.8 731.2,1482.8 733.3,1482.8 735.4,1482.8 737.5,1482.8 739.6,1482.7 741.7,1482.7 743.8,1482.7 745.8,1482.7 747.9,1482.7 750.0,1482.7 752.1,1482.7 754.2,1482.6 756.2,1482.6 758.3,1482.6 760.4,1482.6 762.5,1482.6 764.6,1482.6 766.7,1482.6 768.8,1482.5 770.8,1482.5 772.9,1482.5 775.0,1482.5 777.1,1482.4 779.2,1482.3 781.2,1482.2 783.3,1482.2 785.4,1482.1 787.5,1482.0 789.6,1481.9 791.7,1481.8 793.8,1481.8 795.8,1481.7 797.9,1481.6 800.0,1481.5 802.1,1481.2 804.3,1480.9 806.4,1480.6 808.6,1480.4 810.7,1480.1 812.9,1479.8 815.0,1479.5 817.2,1478.6 819.3,1477.7 821.5,1476.8 823.7,1475.8 825.8,1474.9 828.0,1474.0 830.0,1472.2 832.0,1470.4 834.0,1468.6 836.0,1466.8 838.0,1465.0 840.3,1461.7 842.7,1458.3 845.0,1455.0 847.5,1449.0 850.0,1443.0 852.2,1431.0 854.4,1419.0 856.6,1407.0 858.8,1395.0 860.8,1384.0 862.8,1373.0 864.7,1362.0 866.7,1351.0 868.7,1340.0 870.7,1325.0 872.7,1310.0 874.8,1295.0 876.8,1280.0 878.8,1265.0 880.8,1250.0 882.9,1235.3 885.1,1220.6 887.2,1205.9 889.4,1191.2 891.5,1176.5 893.7,1161.8 895.8,1147.1 898.0,1132.4 900.1,1117.6 902.3,1102.9 904.4,1088.2 906.6,1073.5 908.7,1058.8 910.9,1044.1 913.0,1029.4 915.2,1014.7 917.3,1000.0 919.1,985.6 921.0,971.2 922.8,956.8 924.6,942.5 926.5,928.1 928.3,913.7 930.1,899.3 932.0,884.9 933.8,870.5 935.7,856.1 937.5,841.8 939.3,827.4 941.2,813.0 943.0,798.6 945.2,784.8 947.4,771.1 949.6,757.3 951.9,743.5 954.1,729.8 956.3,716.0 959.5,702.8 961.0,688.0 962.9,670.6 964.7,656.0 966.5,642.0 968.7,625.3 970.9,606.3 973.0,590.9 975.3,574.0 977.4,553.0 980.3,525.0 982.0,499.0 984.3,450.4 986.3,367.0 988.7,320.7 991.5,311.0 994.0,303.5 995.5,291.0 997.4,289.8 999.3,288.6 1001.2,287.4 1003.1,286.2 1005.0,285.0 1007.0,283.5 1009.0,282.0 1011.0,280.5 1013.0,279.0 1015.0,277.5 1017.0,276.0 1019.0,274.5 1021.2,276.1 1023.5,277.8 1025.8,279.4 1028.0,281.0 1030.1,282.5 1032.2,284.0 1034.4,285.5 1036.5,287.0 1038.4,286.5 1040.2,286.0 1042.1,285.5 1044.0,285.0 1045.9,283.9 1047.8,282.7 1049.8,281.5 1051.7,280.4 1054.0,278.3 1056.4,276.2 1058.8,274.2 1061.1,272.1 1063.1,270.4 1065.1,268.6 1067.1,266.9 1069.1,265.1 1071.1,263.4 1073.1,261.7 1075.1,259.9 1077.1,258.2 1079.3,256.0 1081.4,253.9 1083.6,251.7 1085.8,249.6 1088.0,247.4 1090.1,245.3 1092.3,243.1 1094.3,241.1 1096.4,239.0 1098.4,236.9 1100.5,234.9 1102.5,232.9 1104.6,230.8 1106.7,229.5 1108.7,228.2 1110.8,226.9 1112.9,225.5 1115.0,224.2 1117.0,222.9 1119.1,221.6 1121.3,220.3 1123.4,218.9 1125.6,217.6 1127.8,216.3 1129.9,215.0 1132.1,213.7 1134.2,212.3 1136.4,211.0 1138.3,210.0 1140.2,209.0 1142.1,208.1 1144.0,207.1 1145.9,206.1 1147.8,205.4 1149.7,204.7 1151.7,204.1 1153.6,203.4 1155.5,202.7 1157.4,202.0 1159.4,201.5 1161.5,201.1 1163.5,200.6 1165.6,200.2 1167.6,199.7 1169.6,199.6 1171.5,199.6 1173.5,199.5 1175.5,199.4 1177.6,199.6 1179.7,199.7 1181.7,199.8 1183.8,200.0 1185.8,200.5 1187.7,201.0 1189.7,201.5 1191.6,202.0 1193.6,202.5 1195.5,203.0 1197.5,203.5 1199.7,204.5 1201.8,205.5 1204.0,206.5 1206.2,207.5 1208.4,208.5 1210.6,209.5 1212.7,210.5 1214.9,211.5 1217.0,212.9 1219.0,214.2 1221.1,215.6 1223.2,216.9 1225.3,218.3 1227.3,219.6 1229.4,221.0 1231.5,222.3 1233.5,223.5 1235.6,224.8 1237.7,226.0 1239.8,227.3 1241.8,228.5 1243.9,229.8 1246.0,231.8 1248.0,233.8 1250.1,235.8 1252.1,237.9 1254.2,239.9 1256.2,241.9 1258.3,243.9 1260.5,246.0 1262.7,248.2 1264.8,250.3 1267.0,252.4 1269.2,254.6 1271.3,256.7 1273.5,258.9 1275.7,261.0 1277.8,262.8 1279.8,264.6 1281.8,266.4 1283.9,268.1 1286.0,269.9 1288.0,271.7 1290.0,273.4 1292.0,275.1 1294.0,276.9 1296.0,278.6 1298.0,280.3 1300.0,282.0 1302.0,283.4 1304.0,284.9 1306.0,286.3 1308.5,286.9 1311.0,287.5 1312.9,286.4 1314.8,285.3 1316.8,284.2 1318.7,283.2 1320.6,282.1 1322.5,281.0 1324.6,279.4 1326.8,277.8 1328.9,276.1 1331.0,274.5 1333.0,275.0 1335.0,275.5 1337.0,276.0 1339.0,276.5 1341.0,277.0 1343.0,277.5 1345.0,278.0 1347.0,279.0 1349.0,280.0 1351.0,281.0 1353.0,282.0 1355.0,283.0 1360.9,288.6 1357.0,303.8 1359.8,312.9 1362.4,321.0 1364.2,367.0 1366.7,450.4 1369.0,499.0 1370.7,525.0 1373.6,553.0 1375.7,574.0 1378.0,590.9 1380.1,606.3 1382.3,625.3 1384.5,642.0 1386.3,656.0 1388.1,670.6 1390.0,688.0 1391.5,702.8 1393.1,709.4 1394.7,716.0 1396.9,729.8 1399.1,743.5 1401.3,757.3 1403.6,771.1 1405.8,784.8 1408.0,798.6 1409.8,813.0 1411.7,827.4 1413.5,841.8 1415.3,856.1 1417.2,870.5 1419.0,884.9 1420.8,899.3 1422.7,913.7 1424.5,928.1 1426.4,942.5 1428.2,956.8 1430.0,971.2 1431.9,985.6 1433.7,1000.0 1435.8,1014.7 1438.0,1029.4 1440.1,1044.1 1442.3,1058.8 1444.4,1073.5 1446.6,1088.2 1448.7,1102.9 1450.9,1117.6 1453.0,1132.4 1455.2,1147.1 1457.3,1161.8 1459.5,1176.5 1461.6,1191.2 1463.8,1205.9 1465.9,1220.6 1468.1,1235.3 1470.2,1250.0 1472.2,1265.0 1474.2,1280.0 1476.2,1295.0 1478.3,1310.0 1480.3,1325.0 1482.3,1340.0 1484.3,1351.0 1486.3,1362.0 1488.2,1373.0 1490.2,1384.0 1492.2,1395.0 1494.4,1407.0 1496.6,1419.0 1498.8,1431.0 1501.0,1443.0 1503.5,1449.0 1506.0,1455.0 1508.3,1458.3 1510.7,1461.7 1513.0,1465.0 1515.0,1466.8 1517.0,1468.6 1519.0,1470.4 1521.0,1472.2 1523.0,1474.0 1525.2,1474.9 1527.3,1475.8 1529.5,1476.8 1531.7,1477.7 1533.8,1478.6 1536.0,1479.5 1538.1,1479.8 1540.3,1480.1 1542.4,1480.4 1544.6,1480.6 1546.7,1480.9 1548.9,1481.2 1551.0,1481.5 1553.1,1481.6 1555.2,1481.7 1557.2,1481.8 1559.3,1481.8 1561.4,1481.9 1563.5,1482.0 1565.6,1482.1 1567.7,1482.2 1569.8,1482.2 1571.8,1482.3 1573.9,1482.4 1576.0,1482.5 1578.1,1482.5 1580.2,1482.5 1582.3,1482.5 1584.5,1482.6 1586.6,1482.6 1588.7,1482.6 1590.8,1482.6 1592.9,1482.6 1595.0,1482.6 1597.1,1482.6 1599.3,1482.7 1601.4,1482.7 1603.5,1482.7 1605.6,1482.7 1607.7,1482.7 1609.8,1482.7 1611.9,1482.7 1614.1,1482.8 1616.2,1482.8 1618.3,1482.8 1620.4,1482.8 1622.5,1482.8 1624.6,1482.8 1626.7,1482.8 1628.9,1482.9 1631.0,1482.9 1633.1,1482.9 1635.2,1482.9 1637.3,1482.9 1639.4,1482.9 1641.5,1482.9 1643.7,1483.0 1645.8,1483.0 1647.9,1483.0 1650.0,1483.0 1652.1,1483.0 1654.2,1483.0 1656.3,1483.0 1658.3,1483.0 1660.4,1483.0 1662.5,1483.0 1664.6,1483.0 1666.7,1483.0 1668.8,1483.0 1670.9,1483.0 1672.9,1483.0 1675.0,1483.0 1677.1,1483.0 1679.2,1483.0 1681.3,1483.0 1683.4,1483.0 1685.5,1483.0 1687.5,1483.0 1689.6,1483.0 1691.7,1483.0 1693.8,1483.0 1695.9,1483.0 1698.0,1483.0 1700.1,1483.0 1702.1,1483.0 1704.2,1483.0 1706.3,1483.0 1708.4,1483.0 1710.5,1483.0 1712.6,1483.0 1714.7,1483.0 1716.7,1483.0 1718.8,1483.0 1720.9,1483.0 1723.0,1483.0 1725.1,1483.0 1727.2,1483.0 1729.3,1483.0 1731.3,1483.0 1733.4,1483.0 1735.5,1483.0 1737.6,1483.0 1739.7,1483.0 1741.8,1483.0 1743.9,1483.0 1745.9,1483.0 1748.0,1483.0 1750.1,1483.0 1752.2,1483.0 1754.3,1483.0 1756.4,1483.0 1758.5,1483.0 1760.5,1483.0 1762.6,1483.0 1764.7,1483.0 1766.8,1483.0 1768.9,1483.0 1771.0,1483.0 1773.1,1483.0 1775.1,1483.0 1777.2,1483.0 1779.3,1483.0 1781.4,1483.0" fill="none" stroke="#FF5050" stroke-width="10.5" stroke-linejoin="round" stroke-linecap="round"/>
<polyline points="569.6,1483.0 571.7,1483.0 573.8,1483.0 575.9,1483.0 578.0,1483.0 580.1,1483.0 582.2,1483.0 584.3,1483.0 586.4,1483.0 588.5,1483.0 590.6,1483.0 592.7,1483.0 594.8,1483.0 596.9,1483.0 599.0,1483.0 601.1,1483.0 603.3,1483.0 605.4,1483.0 607.5,1483.0 609.6,1483.0 611.7,1483.0 613.8,1483.0 615.9,1483.0 618.0,1483.0 620.1,1483.0 622.2,1483.0 624.3,1483.0 626.4,1483.0 628.5,1483.0 630.6,1483.0 632.7,1483.0 634.8,1483.0 636.9,1483.0 639.0,1483.0 641.1,1483.0 643.2,1483.0 645.3,1483.0 647.4,1483.0 649.5,1483.0 651.6,1483.0 653.7,1483.0 655.8,1483.0 657.9,1483.0 660.0,1483.0 662.1,1483.0 664.2,1483.0 666.3,1483.0 668.5,1483.0 670.6,1483.0 672.7,1483.0 674.8,1483.0 676.9,1483.0 679.0,1483.0 681.1,1483.0 683.2,1483.0 685.3,1483.0 687.4,1483.0 689.5,1483.0 691.6,1483.0 693.7,1483.0 695.8,1483.0 697.9,1483.0 700.0,1483.0 702.1,1483.0 704.2,1483.0 706.2,1483.0 708.3,1482.9 710.4,1482.9 712.5,1482.9 714.6,1482.9 716.7,1482.9 718.8,1482.9 720.8,1482.9 722.9,1482.8 725.0,1482.8 727.1,1482.8 729.2,1482.8 731.2,1482.8 733.3,1482.8 735.4,1482.8 737.5,1482.8 739.6,1482.7 741.7,1482.7 743.8,1482.7 745.8,1482.7 747.9,1482.7 750.0,1482.7 752.1,1482.7 754.2,1482.6 756.2,1482.6 758.3,1482.6 760.4,1482.6 762.5,1482.6 764.6,1482.6 766.7,1482.6 768.8,1482.5 770.8,1482.5 772.9,1482.5 775.0,1482.5 777.1,1482.4 779.2,1482.3 781.2,1482.2 783.3,1482.2 785.4,1482.1 787.5,1482.0 789.6,1481.9 791.7,1481.8 793.8,1481.8 795.8,1481.7 797.9,1481.6 800.0,1481.5 802.1,1481.2 804.3,1480.9 806.4,1480.6 808.6,1480.4 810.7,1480.1 812.9,1479.8 815.0,1479.5 817.2,1478.6 819.3,1477.7 821.5,1476.8 823.7,1475.8 825.8,1474.9 828.0,1474.0 830.0,1472.2 832.0,1470.4 834.0,1468.6 836.0,1466.8 838.0,1465.0 840.3,1461.7 842.7,1458.3 845.0,1455.0 847.5,1449.0 850.0,1443.0 852.2,1431.0 854.4,1419.0 856.6,1407.0 858.8,1395.0 860.8,1384.0 862.8,1373.0 864.7,1362.0 866.7,1351.0 868.7,1340.0 870.7,1325.0 872.7,1310.0 874.8,1295.0 876.8,1280.0 878.8,1265.0 880.8,1250.0 882.9,1235.3 885.1,1220.6 887.2,1205.9 889.4,1191.2 891.5,1176.5 893.7,1161.8 895.8,1147.1 898.0,1132.4 900.1,1117.6 902.3,1102.9 904.4,1088.2 906.6,1073.5 908.7,1058.8 910.9,1044.1 913.0,1029.4 915.2,1014.7 917.3,1000.0 919.1,985.6 921.0,971.2 922.8,956.8 924.6,942.5 926.5,928.1 928.3,913.7 930.1,899.3 932.0,884.9 933.8,870.5 935.7,856.1 937.5,841.8 939.3,827.4 941.2,813.0 943.0,798.6 945.2,784.8 947.4,771.1 949.6,757.3 951.9,743.5 954.1,729.8 956.3,716.0 959.5,702.8 961.0,688.0 962.9,670.6 964.7,656.0 966.5,642.0 968.7,625.3 970.9,606.3 973.0,590.9 975.3,574.0 977.4,553.0 980.3,525.0 982.0,499.0 984.3,450.4 986.3,367.0 988.7,320.7 991.5,311.0 994.0,303.5 995.5,291.0 997.4,289.8 999.3,288.6 1001.2,287.4 1003.1,286.2 1005.0,285.0 1007.0,283.5 1009.0,282.0 1011.0,280.5 1013.0,279.0 1015.0,277.5 1017.0,276.0 1019.0,274.5 1021.2,276.1 1023.5,277.8 1025.8,279.4 1028.0,281.0 1030.1,282.5 1032.2,284.0 1034.4,285.5 1036.5,287.0 1038.4,286.5 1040.2,286.0 1042.1,285.5 1044.0,285.0 1045.9,283.9 1047.8,282.7 1049.8,281.5 1051.7,280.4 1054.0,278.3 1056.4,276.2 1058.8,274.2 1061.1,272.1 1063.1,270.4 1065.1,268.6 1067.1,266.9 1069.1,265.1 1071.1,263.4 1073.1,261.7 1075.1,259.9 1077.1,258.2 1079.3,256.0 1081.4,253.9 1083.6,251.7 1085.8,249.6 1088.0,247.4 1090.1,245.3 1092.3,243.1 1094.3,241.1 1096.4,239.0 1098.4,236.9 1100.5,234.9 1102.5,232.9 1104.6,230.8 1106.7,229.5 1108.7,228.2 1110.8,226.9 1112.9,225.5 1115.0,224.2 1117.0,222.9 1119.1,221.6 1121.3,220.3 1123.4,218.9 1125.6,217.6 1127.8,216.3 1129.9,215.0 1132.1,213.7 1134.2,212.3 1136.4,211.0 1138.3,210.0 1140.2,209.0 1142.1,208.1 1144.0,207.1 1145.9,206.1 1147.8,205.4 1149.7,204.7 1151.7,204.1 1153.6,203.4 1155.5,202.7 1157.4,202.0 1159.4,201.5 1161.5,201.1 1163.5,200.6 1165.6,200.2 1167.6,199.7 1169.6,199.6 1171.5,199.6 1173.5,199.5 1175.5,199.4 1177.6,199.6 1179.7,199.7 1181.7,199.8 1183.8,200.0 1185.8,200.5 1187.7,201.0 1189.7,201.5 1191.6,202.0 1193.6,202.5 1195.5,203.0 1197.5,203.5 1199.7,204.5 1201.8,205.5 1204.0,206.5 1206.2,207.5 1208.4,208.5 1210.6,209.5 1212.7,210.5 1214.9,211.5 1217.0,212.9 1219.0,214.2 1221.1,215.6 1223.2,216.9 1225.3,218.3 1227.3,219.6 1229.4,221.0 1231.5,222.3 1233.5,223.5 1235.6,224.8 1237.7,226.0 1239.8,227.3 1241.8,228.5 1243.9,229.8 1246.0,231.8 1248.0,233.8 1250.1,235.8 1252.1,237.9 1254.2,239.9 1256.2,241.9 1258.3,243.9 1260.5,246.0 1262.7,248.2 1264.8,250.3 1267.0,252.4 1269.2,254.6 1271.3,256.7 1273.5,258.9 1275.7,261.0 1277.8,262.8 1279.8,264.6 1281.8,266.4 1283.9,268.1 1286.0,269.9 1288.0,271.7 1290.0,273.4 1292.0,275.1 1294.0,276.9 1296.0,278.6 1298.0,280.3 1300.0,282.0 1302.0,283.4 1304.0,284.9 1306.0,286.3 1308.5,286.9 1311.0,287.5 1312.9,286.4 1314.8,285.3 1316.8,284.2 1318.7,283.2 1320.6,282.1 1322.5,281.0 1324.6,279.4 1326.8,277.8 1328.9,276.1 1331.0,274.5 1333.0,275.0 1335.0,275.5 1337.0,276.0 1339.0,276.5 1341.0,277.0 1343.0,277.5 1345.0,278.0 1347.0,279.0 1349.0,280.0 1351.0,281.0 1353.0,282.0 1355.0,283.0 1360.9,288.6 1357.0,303.8 1359.8,312.9 1362.4,321.0 1364.2,367.0 1366.7,450.4 1369.0,499.0 1370.7,525.0 1373.6,553.0 1375.7,574.0 1378.0,590.9 1380.1,606.3 1382.3,625.3 1384.5,642.0 1386.3,656.0 1388.1,670.6 1390.0,688.0 1391.5,702.8 1393.1,709.4 1394.7,716.0 1396.9,729.8 1399.1,743.5 1401.3,757.3 1403.6,771.1 1405.8,784.8 1408.0,798.6 1409.8,813.0 1411.7,827.4 1413.5,841.8 1415.3,856.1 1417.2,870.5 1419.0,884.9 1420.8,899.3 1422.7,913.7 1424.5,928.1 1426.4,942.5 1428.2,956.8 1430.0,971.2 1431.9,985.6 1433.7,1000.0 1435.8,1014.7 1438.0,1029.4 1440.1,1044.1 1442.3,1058.8 1444.4,1073.5 1446.6,1088.2 1448.7,1102.9 1450.9,1117.6 1453.0,1132.4 1455.2,1147.1 1457.3,1161.8 1459.5,1176.5 1461.6,1191.2 1463.8,1205.9 1465.9,1220.6 1468.1,1235.3 1470.2,1250.0 1472.2,1265.0 1474.2,1280.0 1476.2,1295.0 1478.3,1310.0 1480.3,1325.0 1482.3,1340.0 1484.3,1351.0 1486.3,1362.0 1488.2,1373.0 1490.2,1384.0 1492.2,1395.0 1494.4,1407.0 1496.6,1419.0 1498.8,1431.0 1501.0,1443.0 1503.5,1449.0 1506.0,1455.0 1508.3,1458.3 1510.7,1461.7 1513.0,1465.0 1515.0,1466.8 1517.0,1468.6 1519.0,1470.4 1521.0,1472.2 1523.0,1474.0 1525.2,1474.9 1527.3,1475.8 1529.5,1476.8 1531.7,1477.7 1533.8,1478.6 1536.0,1479.5 1538.1,1479.8 1540.3,1480.1 1542.4,1480.4 1544.6,1480.6 1546.7,1480.9 1548.9,1481.2 1551.0,1481.5 1553.1,1481.6 1555.2,1481.7 1557.2,1481.8 1559.3,1481.8 1561.4,1481.9 1563.5,1482.0 1565.6,1482.1 1567.7,1482.2 1569.8,1482.2 1571.8,1482.3 1573.9,1482.4 1576.0,1482.5 1578.1,1482.5 1580.2,1482.5 1582.3,1482.5 1584.5,1482.6 1586.6,1482.6 1588.7,1482.6 1590.8,1482.6 1592.9,1482.6 1595.0,1482.6 1597.1,1482.6 1599.3,1482.7 1601.4,1482.7 1603.5,1482.7 1605.6,1482.7 1607.7,1482.7 1609.8,1482.7 1611.9,1482.7 1614.1,1482.8 1616.2,1482.8 1618.3,1482.8 1620.4,1482.8 1622.5,1482.8 1624.6,1482.8 1626.7,1482.8 1628.9,1482.9 1631.0,1482.9 1633.1,1482.9 1635.2,1482.9 1637.3,1482.9 1639.4,1482.9 1641.5,1482.9 1643.7,1483.0 1645.8,1483.0 1647.9,1483.0 1650.0,1483.0 1652.1,1483.0 1654.2,1483.0 1656.3,1483.0 1658.3,1483.0 1660.4,1483.0 1662.5,1483.0 1664.6,1483.0 1666.7,1483.0 1668.8,1483.0 1670.9,1483.0 1672.9,1483.0 1675.0,1483.0 1677.1,1483.0 1679.2,1483.0 1681.3,1483.0 1683.4,1483.0 1685.5,1483.0 1687.5,1483.0 1689.6,1483.0 1691.7,1483.0 1693.8,1483.0 1695.9,1483.0 1698.0,1483.0 1700.1,1483.0 1702.1,1483.0 1704.2,1483.0 1706.3,1483.0 1708.4,1483.0 1710.5,1483.0 1712.6,1483.0 1714.7,1483.0 1716.7,1483.0 1718.8,1483.0 1720.9,1483.0 1723.0,1483.0 1725.1,1483.0 1727.2,1483.0 1729.3,1483.0 1731.3,1483.0 1733.4,1483.0 1735.5,1483.0 1737.6,1483.0 1739.7,1483.0 1741.8,1483.0 1743.9,1483.0 1745.9,1483.0 1748.0,1483.0 1750.1,1483.0 1752.2,1483.0 1754.3,1483.0 1756.4,1483.0 1758.5,1483.0 1760.5,1483.0 1762.6,1483.0 1764.7,1483.0 1766.8,1483.0 1768.9,1483.0 1771.0,1483.0 1773.1,1483.0 1775.1,1483.0 1777.2,1483.0 1779.3,1483.0 1781.4,1483.0" fill="none" stroke="none" marker-start="url(#m_red)" marker-mid="url(#m_red)" marker-end="url(#m_red)"/>
<line x1="1472.5" y1="179.4" x2="1618.5" y2="179.4" stroke="#00B0F0" stroke-width="11" stroke-linecap="round"/>
<polyline points="1545.5,179.4 1545.6,179.4" fill="none" marker-start="url(#m_cyan)"/>
<line x1="1472.5" y1="274.4" x2="1618.5" y2="274.4" stroke="#EC00C0" stroke-width="11" stroke-linecap="round"/>
<polyline points="1545.5,274.4 1545.6,274.4" fill="none" marker-start="url(#m_magenta)"/>
<line x1="1472.5" y1="369.0" x2="1618.5" y2="369.0" stroke="#235DCB" stroke-width="11" stroke-linecap="round"/>
<polyline points="1545.5,369.0 1545.6,369.0" fill="none" marker-start="url(#m_blue)"/>
<line x1="1472.5" y1="462.7" x2="1618.5" y2="462.7" stroke="#7030A0" stroke-width="11" stroke-linecap="round"/>
<polyline points="1545.5,462.7 1545.6,462.7" fill="none" marker-start="url(#m_purple)"/>
<line x1="1472.5" y1="557.6" x2="1618.5" y2="557.6" stroke="#FF5050" stroke-width="11" stroke-linecap="round"/>
<polyline points="1545.5,557.6 1545.6,557.6" fill="none" marker-start="url(#m_red)"/>
<text font-family="Liberation Serif, Times New Roman, serif" font-size="82" font-style="italic" x="1634.0" y="204.9">L</text>
<text font-family="Liberation Serif, Times New Roman, serif" font-size="78.0" transform="translate(1691.5,181.5) scale(1,0.75)" x="0" y="25.9">=</text>
<text font-family="Liberation Serif, Times New Roman, serif" font-size="82" x="1749.5" y="204.9" textLength="96.5" lengthAdjust="spacingAndGlyphs">4.0</text>
<text font-family="Liberation Serif, Times New Roman, serif" font-size="82" font-style="italic" x="1846.5" y="204.9" textLength="45.0" lengthAdjust="spacingAndGlyphs">B</text>
<text font-family="Liberation Serif, Times New Roman, serif" font-size="82" font-style="italic" x="1634.0" y="297.5">L</text>
<text font-family="Liberation Serif, Times New Roman, serif" font-size="78.0" transform="translate(1691.5,274.1) scale(1,0.75)" x="0" y="25.9">=</text>
<text font-family="Liberation Serif, Times New Roman, serif" font-size="82" x="1749.5" y="297.5" textLength="133.7" lengthAdjust="spacingAndGlyphs">3.33</text>
<text font-family="Liberation Serif, Times New Roman, serif" font-size="82" font-style="italic" x="1887.0" y="297.5" textLength="45.0" lengthAdjust="spacingAndGlyphs">B</text>
<text font-family="Liberation Serif, Times New Roman, serif" font-size="82" font-style="italic" x="1634.0" y="390.0">L</text>
<text font-family="Liberation Serif, Times New Roman, serif" font-size="78.0" transform="translate(1691.5,366.6) scale(1,0.75)" x="0" y="25.9">=</text>
<text font-family="Liberation Serif, Times New Roman, serif" font-size="82" x="1749.5" y="390.0" textLength="137.0" lengthAdjust="spacingAndGlyphs">2.86</text>
<text font-family="Liberation Serif, Times New Roman, serif" font-size="82" font-style="italic" x="1885.5" y="390.0" textLength="45.0" lengthAdjust="spacingAndGlyphs">B</text>
<text font-family="Liberation Serif, Times New Roman, serif" font-size="82" font-style="italic" x="1634.0" y="482.8">L</text>
<text font-family="Liberation Serif, Times New Roman, serif" font-size="78.0" transform="translate(1691.5,459.4) scale(1,0.75)" x="0" y="25.9">=</text>
<text font-family="Liberation Serif, Times New Roman, serif" font-size="82" x="1749.5" y="482.8" textLength="136.6" lengthAdjust="spacingAndGlyphs">2.50</text>
<text font-family="Liberation Serif, Times New Roman, serif" font-size="82" font-style="italic" x="1885.5" y="482.8" textLength="45.0" lengthAdjust="spacingAndGlyphs">B</text>
<text font-family="Liberation Serif, Times New Roman, serif" font-size="82" font-style="italic" x="1634.0" y="575.6">L</text>
<text font-family="Liberation Serif, Times New Roman, serif" font-size="78.0" transform="translate(1691.5,552.2) scale(1,0.75)" x="0" y="25.9">=</text>
<text font-family="Liberation Serif, Times New Roman, serif" font-size="82" x="1749.5" y="575.6" textLength="137.8" lengthAdjust="spacingAndGlyphs">2.22</text>
<text font-family="Liberation Serif, Times New Roman, serif" font-size="82" font-style="italic" x="1885.5" y="575.6" textLength="45.0" lengthAdjust="spacingAndGlyphs">B</text>
<text font-family="Liberation Serif, Times New Roman, serif" font-size="81" x="262.4" y="1505.5" text-anchor="end">0</text>
<text font-family="Liberation Serif, Times New Roman, serif" font-size="81" x="262.4" y="1347.4" text-anchor="end">10</text>
<text font-family="Liberation Serif, Times New Roman, serif" font-size="81" x="262.4" y="1189.3" text-anchor="end">20</text>
<text font-family="Liberation Serif, Times New Roman, serif" font-size="81" x="262.4" y="1031.2" text-anchor="end">30</text>
<text font-family="Liberation Serif, Times New Roman, serif" font-size="81" x="262.4" y="873.1" text-anchor="end">40</text>
<text font-family="Liberation Serif, Times New Roman, serif" font-size="81" x="262.4" y="715.0" text-anchor="end">50</text>
<text font-family="Liberation Serif, Times New Roman, serif" font-size="81" x="262.4" y="556.8" text-anchor="end">60</text>
<text font-family="Liberation Serif, Times New Roman, serif" font-size="81" x="262.4" y="398.7" text-anchor="end">70</text>
<text font-family="Liberation Serif, Times New Roman, serif" font-size="81" x="262.4" y="240.6" text-anchor="end">80</text>
<text font-family="Liberation Serif, Times New Roman, serif" font-size="81" x="262.4" y="82.5" text-anchor="end">90</text>
<text font-family="Liberation Serif, Times New Roman, serif" font-size="81" x="333.9" y="1618.5" text-anchor="middle" textLength="79.5" lengthAdjust="spacingAndGlyphs">−6</text>
<text font-family="Liberation Serif, Times New Roman, serif" font-size="81" x="597.2" y="1618.5" text-anchor="middle" textLength="79.5" lengthAdjust="spacingAndGlyphs">−4</text>
<text font-family="Liberation Serif, Times New Roman, serif" font-size="81" x="882.2" y="1618.5" text-anchor="middle" textLength="79.5" lengthAdjust="spacingAndGlyphs">−2</text>
<text font-family="Liberation Serif, Times New Roman, serif" font-size="81" x="1167.4" y="1618.5" text-anchor="middle">0</text>
<text font-family="Liberation Serif, Times New Roman, serif" font-size="81" x="1432.0" y="1618.5" text-anchor="middle">2</text>
<text font-family="Liberation Serif, Times New Roman, serif" font-size="81" x="1717.0" y="1618.5" text-anchor="middle">4</text>
<text font-family="Liberation Serif, Times New Roman, serif" font-size="81" x="2000.8" y="1618.5" text-anchor="middle">6</text>
<text font-family="Liberation Serif, Times New Roman, serif" font-size="79.5" x="770.8" y="1731" textLength="795.3" lengthAdjust="spacingAndGlyphs">Horizontal position (m)</text>
<text font-family="Liberation Serif, Times New Roman, serif" font-size="79.5" transform="translate(103.8,1157.7) rotate(-90)" x="0" y="0" textLength="704" lengthAdjust="spacingAndGlyphs">Tensile force (kN/m)</text>
</svg></body></html>
